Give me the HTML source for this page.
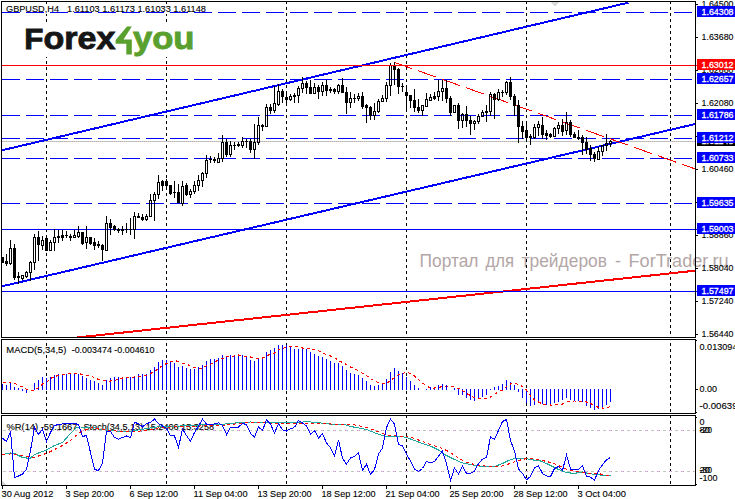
<!DOCTYPE html>
<html><head><meta charset="utf-8"><title>GBPUSD H4</title>
<style>html,body{margin:0;padding:0;background:#fff;overflow:hidden}svg{display:block}text{font-family:"Liberation Sans",sans-serif}</style>
</head><body>
<svg width="735" height="499" viewBox="0 0 735 499" shape-rendering="crispEdges">
<rect x="0" y="0" width="735" height="499" fill="#ffffff"/>
<text x="419.5" y="266.5" font-size="17.5" fill="#b3a6a6" textLength="59" lengthAdjust="spacingAndGlyphs" style="shape-rendering:auto">Портал</text>
<text x="485.5" y="266.5" font-size="17.5" fill="#b3a6a6" textLength="28.5" lengthAdjust="spacingAndGlyphs" style="shape-rendering:auto">для</text>
<text x="521.5" y="266.5" font-size="17.5" fill="#b3a6a6" textLength="85.5" lengthAdjust="spacingAndGlyphs" style="shape-rendering:auto">трейдеров</text>
<text x="615" y="266.5" font-size="17.5" fill="#b3a6a6" textLength="6" lengthAdjust="spacingAndGlyphs" style="shape-rendering:auto">-</text>
<text x="628.5" y="266.5" font-size="17.5" fill="#b3a6a6" textLength="100" lengthAdjust="spacingAndGlyphs" style="shape-rendering:auto">ForTrader.ru</text>
<rect x="46" y="1" width="1" height="3" fill="#000"/>
<rect x="46" y="7" width="1" height="3" fill="#000"/>
<rect x="46" y="13" width="1" height="3" fill="#000"/>
<rect x="46" y="19" width="1" height="3" fill="#000"/>
<rect x="46" y="25" width="1" height="3" fill="#000"/>
<rect x="46" y="31" width="1" height="3" fill="#000"/>
<rect x="46" y="37" width="1" height="3" fill="#000"/>
<rect x="46" y="43" width="1" height="3" fill="#000"/>
<rect x="46" y="49" width="1" height="3" fill="#000"/>
<rect x="46" y="55" width="1" height="3" fill="#000"/>
<rect x="46" y="61" width="1" height="3" fill="#000"/>
<rect x="46" y="67" width="1" height="3" fill="#000"/>
<rect x="46" y="73" width="1" height="3" fill="#000"/>
<rect x="46" y="79" width="1" height="3" fill="#000"/>
<rect x="46" y="85" width="1" height="3" fill="#000"/>
<rect x="46" y="91" width="1" height="3" fill="#000"/>
<rect x="46" y="97" width="1" height="3" fill="#000"/>
<rect x="46" y="103" width="1" height="3" fill="#000"/>
<rect x="46" y="109" width="1" height="3" fill="#000"/>
<rect x="46" y="115" width="1" height="3" fill="#000"/>
<rect x="46" y="121" width="1" height="3" fill="#000"/>
<rect x="46" y="127" width="1" height="3" fill="#000"/>
<rect x="46" y="133" width="1" height="3" fill="#000"/>
<rect x="46" y="139" width="1" height="3" fill="#000"/>
<rect x="46" y="145" width="1" height="3" fill="#000"/>
<rect x="46" y="151" width="1" height="3" fill="#000"/>
<rect x="46" y="157" width="1" height="3" fill="#000"/>
<rect x="46" y="163" width="1" height="3" fill="#000"/>
<rect x="46" y="169" width="1" height="3" fill="#000"/>
<rect x="46" y="175" width="1" height="3" fill="#000"/>
<rect x="46" y="181" width="1" height="3" fill="#000"/>
<rect x="46" y="187" width="1" height="3" fill="#000"/>
<rect x="46" y="193" width="1" height="3" fill="#000"/>
<rect x="46" y="199" width="1" height="3" fill="#000"/>
<rect x="46" y="205" width="1" height="3" fill="#000"/>
<rect x="46" y="211" width="1" height="3" fill="#000"/>
<rect x="46" y="217" width="1" height="3" fill="#000"/>
<rect x="46" y="223" width="1" height="3" fill="#000"/>
<rect x="46" y="229" width="1" height="3" fill="#000"/>
<rect x="46" y="235" width="1" height="3" fill="#000"/>
<rect x="46" y="241" width="1" height="3" fill="#000"/>
<rect x="46" y="247" width="1" height="3" fill="#000"/>
<rect x="46" y="253" width="1" height="3" fill="#000"/>
<rect x="46" y="259" width="1" height="3" fill="#000"/>
<rect x="46" y="265" width="1" height="3" fill="#000"/>
<rect x="46" y="271" width="1" height="3" fill="#000"/>
<rect x="46" y="277" width="1" height="3" fill="#000"/>
<rect x="46" y="283" width="1" height="3" fill="#000"/>
<rect x="46" y="289" width="1" height="3" fill="#000"/>
<rect x="46" y="295" width="1" height="3" fill="#000"/>
<rect x="46" y="301" width="1" height="3" fill="#000"/>
<rect x="46" y="307" width="1" height="3" fill="#000"/>
<rect x="46" y="313" width="1" height="3" fill="#000"/>
<rect x="46" y="319" width="1" height="3" fill="#000"/>
<rect x="46" y="325" width="1" height="3" fill="#000"/>
<rect x="46" y="331" width="1" height="3" fill="#000"/>
<rect x="46" y="337" width="1" height="1" fill="#000"/>
<rect x="46" y="339" width="1" height="1" fill="#000"/>
<rect x="46" y="343" width="1" height="3" fill="#000"/>
<rect x="46" y="349" width="1" height="3" fill="#000"/>
<rect x="46" y="355" width="1" height="3" fill="#000"/>
<rect x="46" y="361" width="1" height="3" fill="#000"/>
<rect x="46" y="367" width="1" height="3" fill="#000"/>
<rect x="46" y="373" width="1" height="3" fill="#000"/>
<rect x="46" y="379" width="1" height="3" fill="#000"/>
<rect x="46" y="385" width="1" height="3" fill="#000"/>
<rect x="46" y="391" width="1" height="3" fill="#000"/>
<rect x="46" y="397" width="1" height="3" fill="#000"/>
<rect x="46" y="403" width="1" height="3" fill="#000"/>
<rect x="46" y="409" width="1" height="3" fill="#000"/>
<rect x="46" y="415" width="1" height="3" fill="#000"/>
<rect x="46" y="421" width="1" height="3" fill="#000"/>
<rect x="46" y="427" width="1" height="3" fill="#000"/>
<rect x="46" y="433" width="1" height="3" fill="#000"/>
<rect x="46" y="439" width="1" height="3" fill="#000"/>
<rect x="46" y="445" width="1" height="3" fill="#000"/>
<rect x="46" y="451" width="1" height="3" fill="#000"/>
<rect x="46" y="457" width="1" height="3" fill="#000"/>
<rect x="46" y="463" width="1" height="3" fill="#000"/>
<rect x="46" y="469" width="1" height="3" fill="#000"/>
<rect x="46" y="475" width="1" height="3" fill="#000"/>
<rect x="46" y="481" width="1" height="3" fill="#000"/>
<rect x="166" y="1" width="1" height="3" fill="#000"/>
<rect x="166" y="7" width="1" height="3" fill="#000"/>
<rect x="166" y="13" width="1" height="3" fill="#000"/>
<rect x="166" y="19" width="1" height="3" fill="#000"/>
<rect x="166" y="25" width="1" height="3" fill="#000"/>
<rect x="166" y="31" width="1" height="3" fill="#000"/>
<rect x="166" y="37" width="1" height="3" fill="#000"/>
<rect x="166" y="43" width="1" height="3" fill="#000"/>
<rect x="166" y="49" width="1" height="3" fill="#000"/>
<rect x="166" y="55" width="1" height="3" fill="#000"/>
<rect x="166" y="61" width="1" height="3" fill="#000"/>
<rect x="166" y="67" width="1" height="3" fill="#000"/>
<rect x="166" y="73" width="1" height="3" fill="#000"/>
<rect x="166" y="79" width="1" height="3" fill="#000"/>
<rect x="166" y="85" width="1" height="3" fill="#000"/>
<rect x="166" y="91" width="1" height="3" fill="#000"/>
<rect x="166" y="97" width="1" height="3" fill="#000"/>
<rect x="166" y="103" width="1" height="3" fill="#000"/>
<rect x="166" y="109" width="1" height="3" fill="#000"/>
<rect x="166" y="115" width="1" height="3" fill="#000"/>
<rect x="166" y="121" width="1" height="3" fill="#000"/>
<rect x="166" y="127" width="1" height="3" fill="#000"/>
<rect x="166" y="133" width="1" height="3" fill="#000"/>
<rect x="166" y="139" width="1" height="3" fill="#000"/>
<rect x="166" y="145" width="1" height="3" fill="#000"/>
<rect x="166" y="151" width="1" height="3" fill="#000"/>
<rect x="166" y="157" width="1" height="3" fill="#000"/>
<rect x="166" y="163" width="1" height="3" fill="#000"/>
<rect x="166" y="169" width="1" height="3" fill="#000"/>
<rect x="166" y="175" width="1" height="3" fill="#000"/>
<rect x="166" y="181" width="1" height="3" fill="#000"/>
<rect x="166" y="187" width="1" height="3" fill="#000"/>
<rect x="166" y="193" width="1" height="3" fill="#000"/>
<rect x="166" y="199" width="1" height="3" fill="#000"/>
<rect x="166" y="205" width="1" height="3" fill="#000"/>
<rect x="166" y="211" width="1" height="3" fill="#000"/>
<rect x="166" y="217" width="1" height="3" fill="#000"/>
<rect x="166" y="223" width="1" height="3" fill="#000"/>
<rect x="166" y="229" width="1" height="3" fill="#000"/>
<rect x="166" y="235" width="1" height="3" fill="#000"/>
<rect x="166" y="241" width="1" height="3" fill="#000"/>
<rect x="166" y="247" width="1" height="3" fill="#000"/>
<rect x="166" y="253" width="1" height="3" fill="#000"/>
<rect x="166" y="259" width="1" height="3" fill="#000"/>
<rect x="166" y="265" width="1" height="3" fill="#000"/>
<rect x="166" y="271" width="1" height="3" fill="#000"/>
<rect x="166" y="277" width="1" height="3" fill="#000"/>
<rect x="166" y="283" width="1" height="3" fill="#000"/>
<rect x="166" y="289" width="1" height="3" fill="#000"/>
<rect x="166" y="295" width="1" height="3" fill="#000"/>
<rect x="166" y="301" width="1" height="3" fill="#000"/>
<rect x="166" y="307" width="1" height="3" fill="#000"/>
<rect x="166" y="313" width="1" height="3" fill="#000"/>
<rect x="166" y="319" width="1" height="3" fill="#000"/>
<rect x="166" y="325" width="1" height="3" fill="#000"/>
<rect x="166" y="331" width="1" height="3" fill="#000"/>
<rect x="166" y="337" width="1" height="1" fill="#000"/>
<rect x="166" y="339" width="1" height="1" fill="#000"/>
<rect x="166" y="343" width="1" height="3" fill="#000"/>
<rect x="166" y="349" width="1" height="3" fill="#000"/>
<rect x="166" y="355" width="1" height="3" fill="#000"/>
<rect x="166" y="361" width="1" height="3" fill="#000"/>
<rect x="166" y="367" width="1" height="3" fill="#000"/>
<rect x="166" y="373" width="1" height="3" fill="#000"/>
<rect x="166" y="379" width="1" height="3" fill="#000"/>
<rect x="166" y="385" width="1" height="3" fill="#000"/>
<rect x="166" y="391" width="1" height="3" fill="#000"/>
<rect x="166" y="397" width="1" height="3" fill="#000"/>
<rect x="166" y="403" width="1" height="3" fill="#000"/>
<rect x="166" y="409" width="1" height="3" fill="#000"/>
<rect x="166" y="415" width="1" height="3" fill="#000"/>
<rect x="166" y="421" width="1" height="3" fill="#000"/>
<rect x="166" y="427" width="1" height="3" fill="#000"/>
<rect x="166" y="433" width="1" height="3" fill="#000"/>
<rect x="166" y="439" width="1" height="3" fill="#000"/>
<rect x="166" y="445" width="1" height="3" fill="#000"/>
<rect x="166" y="451" width="1" height="3" fill="#000"/>
<rect x="166" y="457" width="1" height="3" fill="#000"/>
<rect x="166" y="463" width="1" height="3" fill="#000"/>
<rect x="166" y="469" width="1" height="3" fill="#000"/>
<rect x="166" y="475" width="1" height="3" fill="#000"/>
<rect x="166" y="481" width="1" height="3" fill="#000"/>
<rect x="286" y="1" width="1" height="3" fill="#000"/>
<rect x="286" y="7" width="1" height="3" fill="#000"/>
<rect x="286" y="13" width="1" height="3" fill="#000"/>
<rect x="286" y="19" width="1" height="3" fill="#000"/>
<rect x="286" y="25" width="1" height="3" fill="#000"/>
<rect x="286" y="31" width="1" height="3" fill="#000"/>
<rect x="286" y="37" width="1" height="3" fill="#000"/>
<rect x="286" y="43" width="1" height="3" fill="#000"/>
<rect x="286" y="49" width="1" height="3" fill="#000"/>
<rect x="286" y="55" width="1" height="3" fill="#000"/>
<rect x="286" y="61" width="1" height="3" fill="#000"/>
<rect x="286" y="67" width="1" height="3" fill="#000"/>
<rect x="286" y="73" width="1" height="3" fill="#000"/>
<rect x="286" y="79" width="1" height="3" fill="#000"/>
<rect x="286" y="85" width="1" height="3" fill="#000"/>
<rect x="286" y="91" width="1" height="3" fill="#000"/>
<rect x="286" y="97" width="1" height="3" fill="#000"/>
<rect x="286" y="103" width="1" height="3" fill="#000"/>
<rect x="286" y="109" width="1" height="3" fill="#000"/>
<rect x="286" y="115" width="1" height="3" fill="#000"/>
<rect x="286" y="121" width="1" height="3" fill="#000"/>
<rect x="286" y="127" width="1" height="3" fill="#000"/>
<rect x="286" y="133" width="1" height="3" fill="#000"/>
<rect x="286" y="139" width="1" height="3" fill="#000"/>
<rect x="286" y="145" width="1" height="3" fill="#000"/>
<rect x="286" y="151" width="1" height="3" fill="#000"/>
<rect x="286" y="157" width="1" height="3" fill="#000"/>
<rect x="286" y="163" width="1" height="3" fill="#000"/>
<rect x="286" y="169" width="1" height="3" fill="#000"/>
<rect x="286" y="175" width="1" height="3" fill="#000"/>
<rect x="286" y="181" width="1" height="3" fill="#000"/>
<rect x="286" y="187" width="1" height="3" fill="#000"/>
<rect x="286" y="193" width="1" height="3" fill="#000"/>
<rect x="286" y="199" width="1" height="3" fill="#000"/>
<rect x="286" y="205" width="1" height="3" fill="#000"/>
<rect x="286" y="211" width="1" height="3" fill="#000"/>
<rect x="286" y="217" width="1" height="3" fill="#000"/>
<rect x="286" y="223" width="1" height="3" fill="#000"/>
<rect x="286" y="229" width="1" height="3" fill="#000"/>
<rect x="286" y="235" width="1" height="3" fill="#000"/>
<rect x="286" y="241" width="1" height="3" fill="#000"/>
<rect x="286" y="247" width="1" height="3" fill="#000"/>
<rect x="286" y="253" width="1" height="3" fill="#000"/>
<rect x="286" y="259" width="1" height="3" fill="#000"/>
<rect x="286" y="265" width="1" height="3" fill="#000"/>
<rect x="286" y="271" width="1" height="3" fill="#000"/>
<rect x="286" y="277" width="1" height="3" fill="#000"/>
<rect x="286" y="283" width="1" height="3" fill="#000"/>
<rect x="286" y="289" width="1" height="3" fill="#000"/>
<rect x="286" y="295" width="1" height="3" fill="#000"/>
<rect x="286" y="301" width="1" height="3" fill="#000"/>
<rect x="286" y="307" width="1" height="3" fill="#000"/>
<rect x="286" y="313" width="1" height="3" fill="#000"/>
<rect x="286" y="319" width="1" height="3" fill="#000"/>
<rect x="286" y="325" width="1" height="3" fill="#000"/>
<rect x="286" y="331" width="1" height="3" fill="#000"/>
<rect x="286" y="337" width="1" height="1" fill="#000"/>
<rect x="286" y="339" width="1" height="1" fill="#000"/>
<rect x="286" y="343" width="1" height="3" fill="#000"/>
<rect x="286" y="349" width="1" height="3" fill="#000"/>
<rect x="286" y="355" width="1" height="3" fill="#000"/>
<rect x="286" y="361" width="1" height="3" fill="#000"/>
<rect x="286" y="367" width="1" height="3" fill="#000"/>
<rect x="286" y="373" width="1" height="3" fill="#000"/>
<rect x="286" y="379" width="1" height="3" fill="#000"/>
<rect x="286" y="385" width="1" height="3" fill="#000"/>
<rect x="286" y="391" width="1" height="3" fill="#000"/>
<rect x="286" y="397" width="1" height="3" fill="#000"/>
<rect x="286" y="403" width="1" height="3" fill="#000"/>
<rect x="286" y="409" width="1" height="3" fill="#000"/>
<rect x="286" y="415" width="1" height="3" fill="#000"/>
<rect x="286" y="421" width="1" height="3" fill="#000"/>
<rect x="286" y="427" width="1" height="3" fill="#000"/>
<rect x="286" y="433" width="1" height="3" fill="#000"/>
<rect x="286" y="439" width="1" height="3" fill="#000"/>
<rect x="286" y="445" width="1" height="3" fill="#000"/>
<rect x="286" y="451" width="1" height="3" fill="#000"/>
<rect x="286" y="457" width="1" height="3" fill="#000"/>
<rect x="286" y="463" width="1" height="3" fill="#000"/>
<rect x="286" y="469" width="1" height="3" fill="#000"/>
<rect x="286" y="475" width="1" height="3" fill="#000"/>
<rect x="286" y="481" width="1" height="3" fill="#000"/>
<rect x="406" y="1" width="1" height="3" fill="#000"/>
<rect x="406" y="7" width="1" height="3" fill="#000"/>
<rect x="406" y="13" width="1" height="3" fill="#000"/>
<rect x="406" y="19" width="1" height="3" fill="#000"/>
<rect x="406" y="25" width="1" height="3" fill="#000"/>
<rect x="406" y="31" width="1" height="3" fill="#000"/>
<rect x="406" y="37" width="1" height="3" fill="#000"/>
<rect x="406" y="43" width="1" height="3" fill="#000"/>
<rect x="406" y="49" width="1" height="3" fill="#000"/>
<rect x="406" y="55" width="1" height="3" fill="#000"/>
<rect x="406" y="61" width="1" height="3" fill="#000"/>
<rect x="406" y="67" width="1" height="3" fill="#000"/>
<rect x="406" y="73" width="1" height="3" fill="#000"/>
<rect x="406" y="79" width="1" height="3" fill="#000"/>
<rect x="406" y="85" width="1" height="3" fill="#000"/>
<rect x="406" y="91" width="1" height="3" fill="#000"/>
<rect x="406" y="97" width="1" height="3" fill="#000"/>
<rect x="406" y="103" width="1" height="3" fill="#000"/>
<rect x="406" y="109" width="1" height="3" fill="#000"/>
<rect x="406" y="115" width="1" height="3" fill="#000"/>
<rect x="406" y="121" width="1" height="3" fill="#000"/>
<rect x="406" y="127" width="1" height="3" fill="#000"/>
<rect x="406" y="133" width="1" height="3" fill="#000"/>
<rect x="406" y="139" width="1" height="3" fill="#000"/>
<rect x="406" y="145" width="1" height="3" fill="#000"/>
<rect x="406" y="151" width="1" height="3" fill="#000"/>
<rect x="406" y="157" width="1" height="3" fill="#000"/>
<rect x="406" y="163" width="1" height="3" fill="#000"/>
<rect x="406" y="169" width="1" height="3" fill="#000"/>
<rect x="406" y="175" width="1" height="3" fill="#000"/>
<rect x="406" y="181" width="1" height="3" fill="#000"/>
<rect x="406" y="187" width="1" height="3" fill="#000"/>
<rect x="406" y="193" width="1" height="3" fill="#000"/>
<rect x="406" y="199" width="1" height="3" fill="#000"/>
<rect x="406" y="205" width="1" height="3" fill="#000"/>
<rect x="406" y="211" width="1" height="3" fill="#000"/>
<rect x="406" y="217" width="1" height="3" fill="#000"/>
<rect x="406" y="223" width="1" height="3" fill="#000"/>
<rect x="406" y="229" width="1" height="3" fill="#000"/>
<rect x="406" y="235" width="1" height="3" fill="#000"/>
<rect x="406" y="241" width="1" height="3" fill="#000"/>
<rect x="406" y="247" width="1" height="3" fill="#000"/>
<rect x="406" y="253" width="1" height="3" fill="#000"/>
<rect x="406" y="259" width="1" height="3" fill="#000"/>
<rect x="406" y="265" width="1" height="3" fill="#000"/>
<rect x="406" y="271" width="1" height="3" fill="#000"/>
<rect x="406" y="277" width="1" height="3" fill="#000"/>
<rect x="406" y="283" width="1" height="3" fill="#000"/>
<rect x="406" y="289" width="1" height="3" fill="#000"/>
<rect x="406" y="295" width="1" height="3" fill="#000"/>
<rect x="406" y="301" width="1" height="3" fill="#000"/>
<rect x="406" y="307" width="1" height="3" fill="#000"/>
<rect x="406" y="313" width="1" height="3" fill="#000"/>
<rect x="406" y="319" width="1" height="3" fill="#000"/>
<rect x="406" y="325" width="1" height="3" fill="#000"/>
<rect x="406" y="331" width="1" height="3" fill="#000"/>
<rect x="406" y="337" width="1" height="1" fill="#000"/>
<rect x="406" y="339" width="1" height="1" fill="#000"/>
<rect x="406" y="343" width="1" height="3" fill="#000"/>
<rect x="406" y="349" width="1" height="3" fill="#000"/>
<rect x="406" y="355" width="1" height="3" fill="#000"/>
<rect x="406" y="361" width="1" height="3" fill="#000"/>
<rect x="406" y="367" width="1" height="3" fill="#000"/>
<rect x="406" y="373" width="1" height="3" fill="#000"/>
<rect x="406" y="379" width="1" height="3" fill="#000"/>
<rect x="406" y="385" width="1" height="3" fill="#000"/>
<rect x="406" y="391" width="1" height="3" fill="#000"/>
<rect x="406" y="397" width="1" height="3" fill="#000"/>
<rect x="406" y="403" width="1" height="3" fill="#000"/>
<rect x="406" y="409" width="1" height="3" fill="#000"/>
<rect x="406" y="415" width="1" height="3" fill="#000"/>
<rect x="406" y="421" width="1" height="3" fill="#000"/>
<rect x="406" y="427" width="1" height="3" fill="#000"/>
<rect x="406" y="433" width="1" height="3" fill="#000"/>
<rect x="406" y="439" width="1" height="3" fill="#000"/>
<rect x="406" y="445" width="1" height="3" fill="#000"/>
<rect x="406" y="451" width="1" height="3" fill="#000"/>
<rect x="406" y="457" width="1" height="3" fill="#000"/>
<rect x="406" y="463" width="1" height="3" fill="#000"/>
<rect x="406" y="469" width="1" height="3" fill="#000"/>
<rect x="406" y="475" width="1" height="3" fill="#000"/>
<rect x="406" y="481" width="1" height="3" fill="#000"/>
<rect x="526" y="1" width="1" height="3" fill="#000"/>
<rect x="526" y="7" width="1" height="3" fill="#000"/>
<rect x="526" y="13" width="1" height="3" fill="#000"/>
<rect x="526" y="19" width="1" height="3" fill="#000"/>
<rect x="526" y="25" width="1" height="3" fill="#000"/>
<rect x="526" y="31" width="1" height="3" fill="#000"/>
<rect x="526" y="37" width="1" height="3" fill="#000"/>
<rect x="526" y="43" width="1" height="3" fill="#000"/>
<rect x="526" y="49" width="1" height="3" fill="#000"/>
<rect x="526" y="55" width="1" height="3" fill="#000"/>
<rect x="526" y="61" width="1" height="3" fill="#000"/>
<rect x="526" y="67" width="1" height="3" fill="#000"/>
<rect x="526" y="73" width="1" height="3" fill="#000"/>
<rect x="526" y="79" width="1" height="3" fill="#000"/>
<rect x="526" y="85" width="1" height="3" fill="#000"/>
<rect x="526" y="91" width="1" height="3" fill="#000"/>
<rect x="526" y="97" width="1" height="3" fill="#000"/>
<rect x="526" y="103" width="1" height="3" fill="#000"/>
<rect x="526" y="109" width="1" height="3" fill="#000"/>
<rect x="526" y="115" width="1" height="3" fill="#000"/>
<rect x="526" y="121" width="1" height="3" fill="#000"/>
<rect x="526" y="127" width="1" height="3" fill="#000"/>
<rect x="526" y="133" width="1" height="3" fill="#000"/>
<rect x="526" y="139" width="1" height="3" fill="#000"/>
<rect x="526" y="145" width="1" height="3" fill="#000"/>
<rect x="526" y="151" width="1" height="3" fill="#000"/>
<rect x="526" y="157" width="1" height="3" fill="#000"/>
<rect x="526" y="163" width="1" height="3" fill="#000"/>
<rect x="526" y="169" width="1" height="3" fill="#000"/>
<rect x="526" y="175" width="1" height="3" fill="#000"/>
<rect x="526" y="181" width="1" height="3" fill="#000"/>
<rect x="526" y="187" width="1" height="3" fill="#000"/>
<rect x="526" y="193" width="1" height="3" fill="#000"/>
<rect x="526" y="199" width="1" height="3" fill="#000"/>
<rect x="526" y="205" width="1" height="3" fill="#000"/>
<rect x="526" y="211" width="1" height="3" fill="#000"/>
<rect x="526" y="217" width="1" height="3" fill="#000"/>
<rect x="526" y="223" width="1" height="3" fill="#000"/>
<rect x="526" y="229" width="1" height="3" fill="#000"/>
<rect x="526" y="235" width="1" height="3" fill="#000"/>
<rect x="526" y="241" width="1" height="3" fill="#000"/>
<rect x="526" y="247" width="1" height="3" fill="#000"/>
<rect x="526" y="253" width="1" height="3" fill="#000"/>
<rect x="526" y="259" width="1" height="3" fill="#000"/>
<rect x="526" y="265" width="1" height="3" fill="#000"/>
<rect x="526" y="271" width="1" height="3" fill="#000"/>
<rect x="526" y="277" width="1" height="3" fill="#000"/>
<rect x="526" y="283" width="1" height="3" fill="#000"/>
<rect x="526" y="289" width="1" height="3" fill="#000"/>
<rect x="526" y="295" width="1" height="3" fill="#000"/>
<rect x="526" y="301" width="1" height="3" fill="#000"/>
<rect x="526" y="307" width="1" height="3" fill="#000"/>
<rect x="526" y="313" width="1" height="3" fill="#000"/>
<rect x="526" y="319" width="1" height="3" fill="#000"/>
<rect x="526" y="325" width="1" height="3" fill="#000"/>
<rect x="526" y="331" width="1" height="3" fill="#000"/>
<rect x="526" y="337" width="1" height="1" fill="#000"/>
<rect x="526" y="339" width="1" height="1" fill="#000"/>
<rect x="526" y="343" width="1" height="3" fill="#000"/>
<rect x="526" y="349" width="1" height="3" fill="#000"/>
<rect x="526" y="355" width="1" height="3" fill="#000"/>
<rect x="526" y="361" width="1" height="3" fill="#000"/>
<rect x="526" y="367" width="1" height="3" fill="#000"/>
<rect x="526" y="373" width="1" height="3" fill="#000"/>
<rect x="526" y="379" width="1" height="3" fill="#000"/>
<rect x="526" y="385" width="1" height="3" fill="#000"/>
<rect x="526" y="391" width="1" height="3" fill="#000"/>
<rect x="526" y="397" width="1" height="3" fill="#000"/>
<rect x="526" y="403" width="1" height="3" fill="#000"/>
<rect x="526" y="409" width="1" height="3" fill="#000"/>
<rect x="526" y="415" width="1" height="3" fill="#000"/>
<rect x="526" y="421" width="1" height="3" fill="#000"/>
<rect x="526" y="427" width="1" height="3" fill="#000"/>
<rect x="526" y="433" width="1" height="3" fill="#000"/>
<rect x="526" y="439" width="1" height="3" fill="#000"/>
<rect x="526" y="445" width="1" height="3" fill="#000"/>
<rect x="526" y="451" width="1" height="3" fill="#000"/>
<rect x="526" y="457" width="1" height="3" fill="#000"/>
<rect x="526" y="463" width="1" height="3" fill="#000"/>
<rect x="526" y="469" width="1" height="3" fill="#000"/>
<rect x="526" y="475" width="1" height="3" fill="#000"/>
<rect x="526" y="481" width="1" height="3" fill="#000"/>
<rect x="670" y="1" width="1" height="3" fill="#000"/>
<rect x="670" y="7" width="1" height="3" fill="#000"/>
<rect x="670" y="13" width="1" height="3" fill="#000"/>
<rect x="670" y="19" width="1" height="3" fill="#000"/>
<rect x="670" y="25" width="1" height="3" fill="#000"/>
<rect x="670" y="31" width="1" height="3" fill="#000"/>
<rect x="670" y="37" width="1" height="3" fill="#000"/>
<rect x="670" y="43" width="1" height="3" fill="#000"/>
<rect x="670" y="49" width="1" height="3" fill="#000"/>
<rect x="670" y="55" width="1" height="3" fill="#000"/>
<rect x="670" y="61" width="1" height="3" fill="#000"/>
<rect x="670" y="67" width="1" height="3" fill="#000"/>
<rect x="670" y="73" width="1" height="3" fill="#000"/>
<rect x="670" y="79" width="1" height="3" fill="#000"/>
<rect x="670" y="85" width="1" height="3" fill="#000"/>
<rect x="670" y="91" width="1" height="3" fill="#000"/>
<rect x="670" y="97" width="1" height="3" fill="#000"/>
<rect x="670" y="103" width="1" height="3" fill="#000"/>
<rect x="670" y="109" width="1" height="3" fill="#000"/>
<rect x="670" y="115" width="1" height="3" fill="#000"/>
<rect x="670" y="121" width="1" height="3" fill="#000"/>
<rect x="670" y="127" width="1" height="3" fill="#000"/>
<rect x="670" y="133" width="1" height="3" fill="#000"/>
<rect x="670" y="139" width="1" height="3" fill="#000"/>
<rect x="670" y="145" width="1" height="3" fill="#000"/>
<rect x="670" y="151" width="1" height="3" fill="#000"/>
<rect x="670" y="157" width="1" height="3" fill="#000"/>
<rect x="670" y="163" width="1" height="3" fill="#000"/>
<rect x="670" y="169" width="1" height="3" fill="#000"/>
<rect x="670" y="175" width="1" height="3" fill="#000"/>
<rect x="670" y="181" width="1" height="3" fill="#000"/>
<rect x="670" y="187" width="1" height="3" fill="#000"/>
<rect x="670" y="193" width="1" height="3" fill="#000"/>
<rect x="670" y="199" width="1" height="3" fill="#000"/>
<rect x="670" y="205" width="1" height="3" fill="#000"/>
<rect x="670" y="211" width="1" height="3" fill="#000"/>
<rect x="670" y="217" width="1" height="3" fill="#000"/>
<rect x="670" y="223" width="1" height="3" fill="#000"/>
<rect x="670" y="229" width="1" height="3" fill="#000"/>
<rect x="670" y="235" width="1" height="3" fill="#000"/>
<rect x="670" y="241" width="1" height="3" fill="#000"/>
<rect x="670" y="247" width="1" height="3" fill="#000"/>
<rect x="670" y="253" width="1" height="3" fill="#000"/>
<rect x="670" y="259" width="1" height="3" fill="#000"/>
<rect x="670" y="265" width="1" height="3" fill="#000"/>
<rect x="670" y="271" width="1" height="3" fill="#000"/>
<rect x="670" y="277" width="1" height="3" fill="#000"/>
<rect x="670" y="283" width="1" height="3" fill="#000"/>
<rect x="670" y="289" width="1" height="3" fill="#000"/>
<rect x="670" y="295" width="1" height="3" fill="#000"/>
<rect x="670" y="301" width="1" height="3" fill="#000"/>
<rect x="670" y="307" width="1" height="3" fill="#000"/>
<rect x="670" y="313" width="1" height="3" fill="#000"/>
<rect x="670" y="319" width="1" height="3" fill="#000"/>
<rect x="670" y="325" width="1" height="3" fill="#000"/>
<rect x="670" y="331" width="1" height="3" fill="#000"/>
<rect x="670" y="337" width="1" height="1" fill="#000"/>
<rect x="670" y="339" width="1" height="1" fill="#000"/>
<rect x="670" y="343" width="1" height="3" fill="#000"/>
<rect x="670" y="349" width="1" height="3" fill="#000"/>
<rect x="670" y="355" width="1" height="3" fill="#000"/>
<rect x="670" y="361" width="1" height="3" fill="#000"/>
<rect x="670" y="367" width="1" height="3" fill="#000"/>
<rect x="670" y="373" width="1" height="3" fill="#000"/>
<rect x="670" y="379" width="1" height="3" fill="#000"/>
<rect x="670" y="385" width="1" height="3" fill="#000"/>
<rect x="670" y="391" width="1" height="3" fill="#000"/>
<rect x="670" y="397" width="1" height="3" fill="#000"/>
<rect x="670" y="403" width="1" height="3" fill="#000"/>
<rect x="670" y="409" width="1" height="3" fill="#000"/>
<rect x="670" y="415" width="1" height="3" fill="#000"/>
<rect x="670" y="421" width="1" height="3" fill="#000"/>
<rect x="670" y="427" width="1" height="3" fill="#000"/>
<rect x="670" y="433" width="1" height="3" fill="#000"/>
<rect x="670" y="439" width="1" height="3" fill="#000"/>
<rect x="670" y="445" width="1" height="3" fill="#000"/>
<rect x="670" y="451" width="1" height="3" fill="#000"/>
<rect x="670" y="457" width="1" height="3" fill="#000"/>
<rect x="670" y="463" width="1" height="3" fill="#000"/>
<rect x="670" y="469" width="1" height="3" fill="#000"/>
<rect x="670" y="475" width="1" height="3" fill="#000"/>
<rect x="670" y="481" width="1" height="3" fill="#000"/>
<rect x="6" y="5" width="202" height="9" fill="#fff"/>
<rect x="6" y="346" width="150" height="9" fill="#fff"/>
<rect x="6" y="421" width="210" height="9" fill="#fff"/>
<text x="6" y="12" font-size="9.7" fill="#000" stroke="#000" stroke-width="0.12" textLength="53" lengthAdjust="spacingAndGlyphs" style="shape-rendering:auto">GBPUSD,H4</text>
<text x="67" y="12" font-size="9.7" fill="#000" stroke="#000" stroke-width="0.12" textLength="139" lengthAdjust="spacingAndGlyphs" style="shape-rendering:auto">1.61103 1.61173 1.61033 1.61148</text>
<text x="6.3" y="353" font-size="9.7" fill="#000" stroke="#000" stroke-width="0.12" textLength="60.2" lengthAdjust="spacingAndGlyphs" style="shape-rendering:auto">MACD(5,34,5)</text>
<text x="71.7" y="353" font-size="9.7" fill="#000" stroke="#000" stroke-width="0.12" textLength="82.8" lengthAdjust="spacingAndGlyphs" style="shape-rendering:auto">-0.003474 -0.004610</text>
<text x="6.5" y="429.5" font-size="9.7" fill="#000" stroke="#000" stroke-width="0.12" textLength="71" lengthAdjust="spacingAndGlyphs" style="shape-rendering:auto">%R(14) -59.1667</text>
<text x="83.5" y="429.5" font-size="9.7" fill="#000" stroke="#000" stroke-width="0.12" textLength="130.5" lengthAdjust="spacingAndGlyphs" style="shape-rendering:auto">Stoch(34,5,13) 15.2406 15.3258</text>
<defs><pattern id="pp" x="2" y="141" width="2" height="1" patternUnits="userSpaceOnUse"><rect x="0" y="0" width="1" height="1" fill="#cda8cd"/><rect x="1" y="0" width="1" height="1" fill="#b4d6b4"/></pattern><pattern id="lv" x="3" y="0" width="12" height="1" patternUnits="userSpaceOnUse"><rect x="0" y="0" width="1" height="1" fill="#b4d6b4"/><rect x="1" y="0" width="1" height="1" fill="#cfb0cf"/><rect x="2" y="0" width="1" height="1" fill="#b4d6b4"/><rect x="6" y="0" width="1" height="1" fill="#c894c8"/><rect x="7" y="0" width="1" height="1" fill="#e2d2e2"/><rect x="8" y="0" width="1" height="1" fill="#c894c8"/></pattern></defs>
<rect x="2" y="141" width="693" height="1" fill="url(#pp)"/>
<rect x="2" y="12" width="18" height="1" fill="#0000ff"/>
<rect x="26" y="12" width="18" height="1" fill="#0000ff"/>
<rect x="50" y="12" width="18" height="1" fill="#0000ff"/>
<rect x="74" y="12" width="18" height="1" fill="#0000ff"/>
<rect x="98" y="12" width="18" height="1" fill="#0000ff"/>
<rect x="122" y="12" width="18" height="1" fill="#0000ff"/>
<rect x="146" y="12" width="18" height="1" fill="#0000ff"/>
<rect x="170" y="12" width="18" height="1" fill="#0000ff"/>
<rect x="194" y="12" width="18" height="1" fill="#0000ff"/>
<rect x="218" y="12" width="18" height="1" fill="#0000ff"/>
<rect x="242" y="12" width="18" height="1" fill="#0000ff"/>
<rect x="266" y="12" width="18" height="1" fill="#0000ff"/>
<rect x="290" y="12" width="18" height="1" fill="#0000ff"/>
<rect x="314" y="12" width="18" height="1" fill="#0000ff"/>
<rect x="338" y="12" width="18" height="1" fill="#0000ff"/>
<rect x="362" y="12" width="18" height="1" fill="#0000ff"/>
<rect x="386" y="12" width="18" height="1" fill="#0000ff"/>
<rect x="410" y="12" width="18" height="1" fill="#0000ff"/>
<rect x="434" y="12" width="18" height="1" fill="#0000ff"/>
<rect x="458" y="12" width="18" height="1" fill="#0000ff"/>
<rect x="482" y="12" width="18" height="1" fill="#0000ff"/>
<rect x="506" y="12" width="18" height="1" fill="#0000ff"/>
<rect x="530" y="12" width="18" height="1" fill="#0000ff"/>
<rect x="554" y="12" width="18" height="1" fill="#0000ff"/>
<rect x="578" y="12" width="18" height="1" fill="#0000ff"/>
<rect x="602" y="12" width="18" height="1" fill="#0000ff"/>
<rect x="626" y="12" width="18" height="1" fill="#0000ff"/>
<rect x="650" y="12" width="18" height="1" fill="#0000ff"/>
<rect x="674" y="12" width="18" height="1" fill="#0000ff"/>
<rect x="2" y="79" width="18" height="1" fill="#0000ff"/>
<rect x="26" y="79" width="18" height="1" fill="#0000ff"/>
<rect x="50" y="79" width="18" height="1" fill="#0000ff"/>
<rect x="74" y="79" width="18" height="1" fill="#0000ff"/>
<rect x="98" y="79" width="18" height="1" fill="#0000ff"/>
<rect x="122" y="79" width="18" height="1" fill="#0000ff"/>
<rect x="146" y="79" width="18" height="1" fill="#0000ff"/>
<rect x="170" y="79" width="18" height="1" fill="#0000ff"/>
<rect x="194" y="79" width="18" height="1" fill="#0000ff"/>
<rect x="218" y="79" width="18" height="1" fill="#0000ff"/>
<rect x="242" y="79" width="18" height="1" fill="#0000ff"/>
<rect x="266" y="79" width="18" height="1" fill="#0000ff"/>
<rect x="290" y="79" width="18" height="1" fill="#0000ff"/>
<rect x="314" y="79" width="18" height="1" fill="#0000ff"/>
<rect x="338" y="79" width="18" height="1" fill="#0000ff"/>
<rect x="362" y="79" width="18" height="1" fill="#0000ff"/>
<rect x="386" y="79" width="18" height="1" fill="#0000ff"/>
<rect x="410" y="79" width="18" height="1" fill="#0000ff"/>
<rect x="434" y="79" width="18" height="1" fill="#0000ff"/>
<rect x="458" y="79" width="18" height="1" fill="#0000ff"/>
<rect x="482" y="79" width="18" height="1" fill="#0000ff"/>
<rect x="506" y="79" width="18" height="1" fill="#0000ff"/>
<rect x="530" y="79" width="18" height="1" fill="#0000ff"/>
<rect x="554" y="79" width="18" height="1" fill="#0000ff"/>
<rect x="578" y="79" width="18" height="1" fill="#0000ff"/>
<rect x="602" y="79" width="18" height="1" fill="#0000ff"/>
<rect x="626" y="79" width="18" height="1" fill="#0000ff"/>
<rect x="650" y="79" width="18" height="1" fill="#0000ff"/>
<rect x="674" y="79" width="18" height="1" fill="#0000ff"/>
<rect x="2" y="115" width="18" height="1" fill="#0000ff"/>
<rect x="26" y="115" width="18" height="1" fill="#0000ff"/>
<rect x="50" y="115" width="18" height="1" fill="#0000ff"/>
<rect x="74" y="115" width="18" height="1" fill="#0000ff"/>
<rect x="98" y="115" width="18" height="1" fill="#0000ff"/>
<rect x="122" y="115" width="18" height="1" fill="#0000ff"/>
<rect x="146" y="115" width="18" height="1" fill="#0000ff"/>
<rect x="170" y="115" width="18" height="1" fill="#0000ff"/>
<rect x="194" y="115" width="18" height="1" fill="#0000ff"/>
<rect x="218" y="115" width="18" height="1" fill="#0000ff"/>
<rect x="242" y="115" width="18" height="1" fill="#0000ff"/>
<rect x="266" y="115" width="18" height="1" fill="#0000ff"/>
<rect x="290" y="115" width="18" height="1" fill="#0000ff"/>
<rect x="314" y="115" width="18" height="1" fill="#0000ff"/>
<rect x="338" y="115" width="18" height="1" fill="#0000ff"/>
<rect x="362" y="115" width="18" height="1" fill="#0000ff"/>
<rect x="386" y="115" width="18" height="1" fill="#0000ff"/>
<rect x="410" y="115" width="18" height="1" fill="#0000ff"/>
<rect x="434" y="115" width="18" height="1" fill="#0000ff"/>
<rect x="458" y="115" width="18" height="1" fill="#0000ff"/>
<rect x="482" y="115" width="18" height="1" fill="#0000ff"/>
<rect x="506" y="115" width="18" height="1" fill="#0000ff"/>
<rect x="530" y="115" width="18" height="1" fill="#0000ff"/>
<rect x="554" y="115" width="18" height="1" fill="#0000ff"/>
<rect x="578" y="115" width="18" height="1" fill="#0000ff"/>
<rect x="602" y="115" width="18" height="1" fill="#0000ff"/>
<rect x="626" y="115" width="18" height="1" fill="#0000ff"/>
<rect x="650" y="115" width="18" height="1" fill="#0000ff"/>
<rect x="674" y="115" width="18" height="1" fill="#0000ff"/>
<rect x="2" y="138" width="18" height="1" fill="#0000ff"/>
<rect x="26" y="138" width="18" height="1" fill="#0000ff"/>
<rect x="50" y="138" width="18" height="1" fill="#0000ff"/>
<rect x="74" y="138" width="18" height="1" fill="#0000ff"/>
<rect x="98" y="138" width="18" height="1" fill="#0000ff"/>
<rect x="122" y="138" width="18" height="1" fill="#0000ff"/>
<rect x="146" y="138" width="18" height="1" fill="#0000ff"/>
<rect x="170" y="138" width="18" height="1" fill="#0000ff"/>
<rect x="194" y="138" width="18" height="1" fill="#0000ff"/>
<rect x="218" y="138" width="18" height="1" fill="#0000ff"/>
<rect x="242" y="138" width="18" height="1" fill="#0000ff"/>
<rect x="266" y="138" width="18" height="1" fill="#0000ff"/>
<rect x="290" y="138" width="18" height="1" fill="#0000ff"/>
<rect x="314" y="138" width="18" height="1" fill="#0000ff"/>
<rect x="338" y="138" width="18" height="1" fill="#0000ff"/>
<rect x="362" y="138" width="18" height="1" fill="#0000ff"/>
<rect x="386" y="138" width="18" height="1" fill="#0000ff"/>
<rect x="410" y="138" width="18" height="1" fill="#0000ff"/>
<rect x="434" y="138" width="18" height="1" fill="#0000ff"/>
<rect x="458" y="138" width="18" height="1" fill="#0000ff"/>
<rect x="482" y="138" width="18" height="1" fill="#0000ff"/>
<rect x="506" y="138" width="18" height="1" fill="#0000ff"/>
<rect x="530" y="138" width="18" height="1" fill="#0000ff"/>
<rect x="554" y="138" width="18" height="1" fill="#0000ff"/>
<rect x="578" y="138" width="18" height="1" fill="#0000ff"/>
<rect x="602" y="138" width="18" height="1" fill="#0000ff"/>
<rect x="626" y="138" width="18" height="1" fill="#0000ff"/>
<rect x="650" y="138" width="18" height="1" fill="#0000ff"/>
<rect x="674" y="138" width="18" height="1" fill="#0000ff"/>
<rect x="2" y="158" width="18" height="1" fill="#0000ff"/>
<rect x="26" y="158" width="18" height="1" fill="#0000ff"/>
<rect x="50" y="158" width="18" height="1" fill="#0000ff"/>
<rect x="74" y="158" width="18" height="1" fill="#0000ff"/>
<rect x="98" y="158" width="18" height="1" fill="#0000ff"/>
<rect x="122" y="158" width="18" height="1" fill="#0000ff"/>
<rect x="146" y="158" width="18" height="1" fill="#0000ff"/>
<rect x="170" y="158" width="18" height="1" fill="#0000ff"/>
<rect x="194" y="158" width="18" height="1" fill="#0000ff"/>
<rect x="218" y="158" width="18" height="1" fill="#0000ff"/>
<rect x="242" y="158" width="18" height="1" fill="#0000ff"/>
<rect x="266" y="158" width="18" height="1" fill="#0000ff"/>
<rect x="290" y="158" width="18" height="1" fill="#0000ff"/>
<rect x="314" y="158" width="18" height="1" fill="#0000ff"/>
<rect x="338" y="158" width="18" height="1" fill="#0000ff"/>
<rect x="362" y="158" width="18" height="1" fill="#0000ff"/>
<rect x="386" y="158" width="18" height="1" fill="#0000ff"/>
<rect x="410" y="158" width="18" height="1" fill="#0000ff"/>
<rect x="434" y="158" width="18" height="1" fill="#0000ff"/>
<rect x="458" y="158" width="18" height="1" fill="#0000ff"/>
<rect x="482" y="158" width="18" height="1" fill="#0000ff"/>
<rect x="506" y="158" width="18" height="1" fill="#0000ff"/>
<rect x="530" y="158" width="18" height="1" fill="#0000ff"/>
<rect x="554" y="158" width="18" height="1" fill="#0000ff"/>
<rect x="578" y="158" width="18" height="1" fill="#0000ff"/>
<rect x="602" y="158" width="18" height="1" fill="#0000ff"/>
<rect x="626" y="158" width="18" height="1" fill="#0000ff"/>
<rect x="650" y="158" width="18" height="1" fill="#0000ff"/>
<rect x="674" y="158" width="18" height="1" fill="#0000ff"/>
<rect x="2" y="203" width="18" height="1" fill="#0000ff"/>
<rect x="26" y="203" width="18" height="1" fill="#0000ff"/>
<rect x="50" y="203" width="18" height="1" fill="#0000ff"/>
<rect x="74" y="203" width="18" height="1" fill="#0000ff"/>
<rect x="98" y="203" width="18" height="1" fill="#0000ff"/>
<rect x="122" y="203" width="18" height="1" fill="#0000ff"/>
<rect x="146" y="203" width="18" height="1" fill="#0000ff"/>
<rect x="170" y="203" width="18" height="1" fill="#0000ff"/>
<rect x="194" y="203" width="18" height="1" fill="#0000ff"/>
<rect x="218" y="203" width="18" height="1" fill="#0000ff"/>
<rect x="242" y="203" width="18" height="1" fill="#0000ff"/>
<rect x="266" y="203" width="18" height="1" fill="#0000ff"/>
<rect x="290" y="203" width="18" height="1" fill="#0000ff"/>
<rect x="314" y="203" width="18" height="1" fill="#0000ff"/>
<rect x="338" y="203" width="18" height="1" fill="#0000ff"/>
<rect x="362" y="203" width="18" height="1" fill="#0000ff"/>
<rect x="386" y="203" width="18" height="1" fill="#0000ff"/>
<rect x="410" y="203" width="18" height="1" fill="#0000ff"/>
<rect x="434" y="203" width="18" height="1" fill="#0000ff"/>
<rect x="458" y="203" width="18" height="1" fill="#0000ff"/>
<rect x="482" y="203" width="18" height="1" fill="#0000ff"/>
<rect x="506" y="203" width="18" height="1" fill="#0000ff"/>
<rect x="530" y="203" width="18" height="1" fill="#0000ff"/>
<rect x="554" y="203" width="18" height="1" fill="#0000ff"/>
<rect x="578" y="203" width="18" height="1" fill="#0000ff"/>
<rect x="602" y="203" width="18" height="1" fill="#0000ff"/>
<rect x="626" y="203" width="18" height="1" fill="#0000ff"/>
<rect x="650" y="203" width="18" height="1" fill="#0000ff"/>
<rect x="674" y="203" width="18" height="1" fill="#0000ff"/>
<defs><clipPath id="cm"><rect x="2" y="2" width="693" height="335"/></clipPath></defs>
<g clip-path="url(#cm)">
<line x1="2" y1="150.3" x2="628.5" y2="2.6" stroke="#0000ff" stroke-width="2"/>
<line x1="2" y1="286.3" x2="696" y2="123.8" stroke="#0000ff" stroke-width="2"/>
<line x1="74" y1="337.85" x2="696" y2="270.6" stroke="#ff0000" stroke-width="2"/>
<line x1="394" y1="62.2" x2="697" y2="169.6" stroke="#ff0000" stroke-width="1" stroke-dasharray="19.1 6.35"/>
</g>
<rect x="2" y="229" width="696" height="1" fill="#0000ff"/>
<rect x="2" y="291" width="696" height="1" fill="#0000ff"/>
<rect x="2" y="257" width="1" height="6" fill="#000"/>
<rect x="1" y="257" width="3" height="6" fill="#000"/>
<rect x="6" y="254" width="1" height="12" fill="#000"/>
<rect x="5" y="261" width="3" height="3" fill="#000"/>
<rect x="10" y="240" width="1" height="8" fill="#000"/>
<rect x="10" y="264" width="1" height="1" fill="#000"/>
<rect x="9" y="248" width="3" height="1" fill="#000"/>
<rect x="9" y="263" width="3" height="1" fill="#000"/>
<rect x="9" y="248" width="1" height="16" fill="#000"/>
<rect x="11" y="248" width="1" height="16" fill="#000"/>
<rect x="14" y="244" width="1" height="36" fill="#000"/>
<rect x="13" y="248" width="3" height="30" fill="#000"/>
<rect x="18" y="272" width="1" height="12" fill="#000"/>
<rect x="17" y="276" width="3" height="2" fill="#000"/>
<rect x="22" y="279" width="1" height="1" fill="#000"/>
<rect x="21" y="275" width="3" height="1" fill="#000"/>
<rect x="21" y="278" width="3" height="1" fill="#000"/>
<rect x="21" y="275" width="1" height="4" fill="#000"/>
<rect x="23" y="275" width="1" height="4" fill="#000"/>
<rect x="26" y="271" width="1" height="1" fill="#000"/>
<rect x="26" y="277" width="1" height="1" fill="#000"/>
<rect x="25" y="272" width="3" height="1" fill="#000"/>
<rect x="25" y="276" width="3" height="1" fill="#000"/>
<rect x="25" y="272" width="1" height="5" fill="#000"/>
<rect x="27" y="272" width="1" height="5" fill="#000"/>
<rect x="30" y="261" width="1" height="1" fill="#000"/>
<rect x="30" y="273" width="1" height="8" fill="#000"/>
<rect x="29" y="262" width="3" height="1" fill="#000"/>
<rect x="29" y="272" width="3" height="1" fill="#000"/>
<rect x="29" y="262" width="1" height="11" fill="#000"/>
<rect x="31" y="262" width="1" height="11" fill="#000"/>
<rect x="34" y="234" width="1" height="3" fill="#000"/>
<rect x="34" y="263" width="1" height="7" fill="#000"/>
<rect x="33" y="237" width="3" height="1" fill="#000"/>
<rect x="33" y="262" width="3" height="1" fill="#000"/>
<rect x="33" y="237" width="1" height="26" fill="#000"/>
<rect x="35" y="237" width="1" height="26" fill="#000"/>
<rect x="38" y="231" width="1" height="30" fill="#000"/>
<rect x="37" y="237" width="3" height="8" fill="#000"/>
<rect x="42" y="236" width="1" height="4" fill="#000"/>
<rect x="42" y="246" width="1" height="4" fill="#000"/>
<rect x="41" y="240" width="3" height="1" fill="#000"/>
<rect x="41" y="245" width="3" height="1" fill="#000"/>
<rect x="41" y="240" width="1" height="6" fill="#000"/>
<rect x="43" y="240" width="1" height="6" fill="#000"/>
<rect x="46" y="235" width="1" height="16" fill="#000"/>
<rect x="45" y="238" width="3" height="13" fill="#000"/>
<rect x="50" y="240" width="1" height="2" fill="#000"/>
<rect x="49" y="242" width="3" height="1" fill="#000"/>
<rect x="49" y="250" width="3" height="1" fill="#000"/>
<rect x="49" y="242" width="1" height="9" fill="#000"/>
<rect x="51" y="242" width="1" height="9" fill="#000"/>
<rect x="54" y="229" width="1" height="8" fill="#000"/>
<rect x="54" y="243" width="1" height="8" fill="#000"/>
<rect x="53" y="237" width="3" height="1" fill="#000"/>
<rect x="53" y="242" width="3" height="1" fill="#000"/>
<rect x="53" y="237" width="1" height="6" fill="#000"/>
<rect x="55" y="237" width="1" height="6" fill="#000"/>
<rect x="58" y="230" width="1" height="13" fill="#000"/>
<rect x="57" y="236" width="3" height="2" fill="#000"/>
<rect x="62" y="230" width="1" height="11" fill="#000"/>
<rect x="61" y="235" width="3" height="3" fill="#000"/>
<rect x="66" y="231" width="1" height="7" fill="#000"/>
<rect x="65" y="235" width="3" height="1" fill="#000"/>
<rect x="70" y="234" width="1" height="7" fill="#000"/>
<rect x="69" y="236" width="3" height="2" fill="#000"/>
<rect x="74" y="230" width="1" height="5" fill="#000"/>
<rect x="73" y="235" width="3" height="1" fill="#000"/>
<rect x="73" y="237" width="3" height="1" fill="#000"/>
<rect x="73" y="235" width="1" height="3" fill="#000"/>
<rect x="75" y="235" width="1" height="3" fill="#000"/>
<rect x="78" y="226" width="1" height="6" fill="#000"/>
<rect x="78" y="237" width="1" height="1" fill="#000"/>
<rect x="77" y="232" width="3" height="1" fill="#000"/>
<rect x="77" y="236" width="3" height="1" fill="#000"/>
<rect x="77" y="232" width="1" height="5" fill="#000"/>
<rect x="79" y="232" width="1" height="5" fill="#000"/>
<rect x="82" y="232" width="1" height="13" fill="#000"/>
<rect x="81" y="232" width="3" height="12" fill="#000"/>
<rect x="86" y="226" width="1" height="11" fill="#000"/>
<rect x="86" y="243" width="1" height="6" fill="#000"/>
<rect x="85" y="237" width="3" height="1" fill="#000"/>
<rect x="85" y="242" width="3" height="1" fill="#000"/>
<rect x="85" y="237" width="1" height="6" fill="#000"/>
<rect x="87" y="237" width="1" height="6" fill="#000"/>
<rect x="90" y="237" width="1" height="8" fill="#000"/>
<rect x="89" y="237" width="3" height="7" fill="#000"/>
<rect x="94" y="238" width="1" height="12" fill="#000"/>
<rect x="93" y="242" width="3" height="4" fill="#000"/>
<rect x="98" y="241" width="1" height="7" fill="#000"/>
<rect x="97" y="244" width="3" height="2" fill="#000"/>
<rect x="102" y="244" width="1" height="17" fill="#000"/>
<rect x="101" y="245" width="3" height="5" fill="#000"/>
<rect x="106" y="216" width="1" height="7" fill="#000"/>
<rect x="105" y="223" width="3" height="1" fill="#000"/>
<rect x="105" y="250" width="3" height="1" fill="#000"/>
<rect x="105" y="223" width="1" height="28" fill="#000"/>
<rect x="107" y="223" width="1" height="28" fill="#000"/>
<rect x="110" y="219" width="1" height="16" fill="#000"/>
<rect x="109" y="223" width="3" height="5" fill="#000"/>
<rect x="114" y="225" width="1" height="6" fill="#000"/>
<rect x="113" y="226" width="3" height="4" fill="#000"/>
<rect x="118" y="228" width="1" height="5" fill="#000"/>
<rect x="117" y="229" width="3" height="2" fill="#000"/>
<rect x="122" y="226" width="1" height="9" fill="#000"/>
<rect x="121" y="229" width="3" height="2" fill="#000"/>
<rect x="126" y="223" width="1" height="10" fill="#000"/>
<rect x="125" y="229" width="3" height="1" fill="#000"/>
<rect x="130" y="218" width="1" height="17" fill="#000"/>
<rect x="129" y="229" width="3" height="1" fill="#000"/>
<rect x="134" y="212" width="1" height="4" fill="#000"/>
<rect x="134" y="230" width="1" height="9" fill="#000"/>
<rect x="133" y="216" width="3" height="1" fill="#000"/>
<rect x="133" y="229" width="3" height="1" fill="#000"/>
<rect x="133" y="216" width="1" height="14" fill="#000"/>
<rect x="135" y="216" width="1" height="14" fill="#000"/>
<rect x="138" y="213" width="1" height="5" fill="#000"/>
<rect x="137" y="216" width="3" height="2" fill="#000"/>
<rect x="142" y="214" width="1" height="7" fill="#000"/>
<rect x="141" y="217" width="3" height="3" fill="#000"/>
<rect x="146" y="214" width="1" height="2" fill="#000"/>
<rect x="146" y="220" width="1" height="1" fill="#000"/>
<rect x="145" y="216" width="3" height="1" fill="#000"/>
<rect x="145" y="219" width="3" height="1" fill="#000"/>
<rect x="145" y="216" width="1" height="4" fill="#000"/>
<rect x="147" y="216" width="1" height="4" fill="#000"/>
<rect x="150" y="194" width="1" height="6" fill="#000"/>
<rect x="149" y="200" width="3" height="1" fill="#000"/>
<rect x="149" y="216" width="3" height="1" fill="#000"/>
<rect x="149" y="200" width="1" height="17" fill="#000"/>
<rect x="151" y="200" width="1" height="17" fill="#000"/>
<rect x="154" y="192" width="1" height="2" fill="#000"/>
<rect x="154" y="201" width="1" height="20" fill="#000"/>
<rect x="153" y="194" width="3" height="1" fill="#000"/>
<rect x="153" y="200" width="3" height="1" fill="#000"/>
<rect x="153" y="194" width="1" height="7" fill="#000"/>
<rect x="155" y="194" width="1" height="7" fill="#000"/>
<rect x="158" y="175" width="1" height="7" fill="#000"/>
<rect x="158" y="195" width="1" height="4" fill="#000"/>
<rect x="157" y="182" width="3" height="1" fill="#000"/>
<rect x="157" y="194" width="3" height="1" fill="#000"/>
<rect x="157" y="182" width="1" height="13" fill="#000"/>
<rect x="159" y="182" width="1" height="13" fill="#000"/>
<rect x="162" y="180" width="1" height="11" fill="#000"/>
<rect x="161" y="181" width="3" height="5" fill="#000"/>
<rect x="166" y="179" width="1" height="11" fill="#000"/>
<rect x="165" y="181" width="3" height="5" fill="#000"/>
<rect x="170" y="185" width="1" height="10" fill="#000"/>
<rect x="169" y="185" width="3" height="9" fill="#000"/>
<rect x="174" y="181" width="1" height="17" fill="#000"/>
<rect x="173" y="192" width="3" height="1" fill="#000"/>
<rect x="178" y="184" width="1" height="19" fill="#000"/>
<rect x="177" y="192" width="3" height="11" fill="#000"/>
<rect x="182" y="181" width="1" height="5" fill="#000"/>
<rect x="182" y="204" width="1" height="2" fill="#000"/>
<rect x="181" y="186" width="3" height="1" fill="#000"/>
<rect x="181" y="203" width="3" height="1" fill="#000"/>
<rect x="181" y="186" width="1" height="18" fill="#000"/>
<rect x="183" y="186" width="1" height="18" fill="#000"/>
<rect x="186" y="183" width="1" height="13" fill="#000"/>
<rect x="185" y="185" width="3" height="10" fill="#000"/>
<rect x="190" y="189" width="1" height="2" fill="#000"/>
<rect x="190" y="195" width="1" height="3" fill="#000"/>
<rect x="189" y="191" width="3" height="1" fill="#000"/>
<rect x="189" y="194" width="3" height="1" fill="#000"/>
<rect x="189" y="191" width="1" height="4" fill="#000"/>
<rect x="191" y="191" width="1" height="4" fill="#000"/>
<rect x="194" y="181" width="1" height="4" fill="#000"/>
<rect x="194" y="192" width="1" height="2" fill="#000"/>
<rect x="193" y="185" width="3" height="1" fill="#000"/>
<rect x="193" y="191" width="3" height="1" fill="#000"/>
<rect x="193" y="185" width="1" height="7" fill="#000"/>
<rect x="195" y="185" width="1" height="7" fill="#000"/>
<rect x="198" y="175" width="1" height="5" fill="#000"/>
<rect x="198" y="186" width="1" height="5" fill="#000"/>
<rect x="197" y="180" width="3" height="1" fill="#000"/>
<rect x="197" y="185" width="3" height="1" fill="#000"/>
<rect x="197" y="180" width="1" height="6" fill="#000"/>
<rect x="199" y="180" width="1" height="6" fill="#000"/>
<rect x="202" y="172" width="1" height="1" fill="#000"/>
<rect x="202" y="181" width="1" height="6" fill="#000"/>
<rect x="201" y="173" width="3" height="1" fill="#000"/>
<rect x="201" y="180" width="3" height="1" fill="#000"/>
<rect x="201" y="173" width="1" height="8" fill="#000"/>
<rect x="203" y="173" width="1" height="8" fill="#000"/>
<rect x="206" y="155" width="1" height="5" fill="#000"/>
<rect x="206" y="174" width="1" height="4" fill="#000"/>
<rect x="205" y="160" width="3" height="1" fill="#000"/>
<rect x="205" y="173" width="3" height="1" fill="#000"/>
<rect x="205" y="160" width="1" height="14" fill="#000"/>
<rect x="207" y="160" width="1" height="14" fill="#000"/>
<rect x="210" y="156" width="1" height="7" fill="#000"/>
<rect x="209" y="159" width="3" height="1" fill="#000"/>
<rect x="214" y="157" width="1" height="6" fill="#000"/>
<rect x="213" y="159" width="3" height="2" fill="#000"/>
<rect x="218" y="153" width="1" height="5" fill="#000"/>
<rect x="217" y="158" width="3" height="1" fill="#000"/>
<rect x="217" y="162" width="3" height="1" fill="#000"/>
<rect x="217" y="158" width="1" height="5" fill="#000"/>
<rect x="219" y="158" width="1" height="5" fill="#000"/>
<rect x="222" y="135" width="1" height="7" fill="#000"/>
<rect x="222" y="159" width="1" height="3" fill="#000"/>
<rect x="221" y="142" width="3" height="1" fill="#000"/>
<rect x="221" y="158" width="3" height="1" fill="#000"/>
<rect x="221" y="142" width="1" height="17" fill="#000"/>
<rect x="223" y="142" width="1" height="17" fill="#000"/>
<rect x="226" y="139" width="1" height="18" fill="#000"/>
<rect x="225" y="142" width="3" height="13" fill="#000"/>
<rect x="230" y="141" width="1" height="4" fill="#000"/>
<rect x="230" y="155" width="1" height="2" fill="#000"/>
<rect x="229" y="145" width="3" height="1" fill="#000"/>
<rect x="229" y="154" width="3" height="1" fill="#000"/>
<rect x="229" y="145" width="1" height="10" fill="#000"/>
<rect x="231" y="145" width="1" height="10" fill="#000"/>
<rect x="234" y="142" width="1" height="8" fill="#000"/>
<rect x="233" y="145" width="3" height="1" fill="#000"/>
<rect x="238" y="142" width="1" height="5" fill="#000"/>
<rect x="237" y="144" width="3" height="2" fill="#000"/>
<rect x="242" y="137" width="1" height="4" fill="#000"/>
<rect x="242" y="146" width="1" height="2" fill="#000"/>
<rect x="241" y="141" width="3" height="1" fill="#000"/>
<rect x="241" y="145" width="3" height="1" fill="#000"/>
<rect x="241" y="141" width="1" height="5" fill="#000"/>
<rect x="243" y="141" width="1" height="5" fill="#000"/>
<rect x="246" y="139" width="1" height="9" fill="#000"/>
<rect x="245" y="141" width="3" height="1" fill="#000"/>
<rect x="250" y="139" width="1" height="14" fill="#000"/>
<rect x="249" y="141" width="3" height="9" fill="#000"/>
<rect x="254" y="124" width="1" height="18" fill="#000"/>
<rect x="254" y="150" width="1" height="9" fill="#000"/>
<rect x="253" y="142" width="3" height="1" fill="#000"/>
<rect x="253" y="149" width="3" height="1" fill="#000"/>
<rect x="253" y="142" width="1" height="8" fill="#000"/>
<rect x="255" y="142" width="1" height="8" fill="#000"/>
<rect x="258" y="117" width="1" height="8" fill="#000"/>
<rect x="258" y="143" width="1" height="2" fill="#000"/>
<rect x="257" y="125" width="3" height="1" fill="#000"/>
<rect x="257" y="142" width="3" height="1" fill="#000"/>
<rect x="257" y="125" width="1" height="18" fill="#000"/>
<rect x="259" y="125" width="1" height="18" fill="#000"/>
<rect x="262" y="124" width="1" height="7" fill="#000"/>
<rect x="261" y="125" width="3" height="2" fill="#000"/>
<rect x="266" y="104" width="1" height="3" fill="#000"/>
<rect x="265" y="107" width="3" height="1" fill="#000"/>
<rect x="265" y="126" width="3" height="1" fill="#000"/>
<rect x="265" y="107" width="1" height="20" fill="#000"/>
<rect x="267" y="107" width="1" height="20" fill="#000"/>
<rect x="270" y="104" width="1" height="10" fill="#000"/>
<rect x="269" y="107" width="3" height="4" fill="#000"/>
<rect x="274" y="86" width="1" height="17" fill="#000"/>
<rect x="274" y="111" width="1" height="2" fill="#000"/>
<rect x="273" y="103" width="3" height="1" fill="#000"/>
<rect x="273" y="110" width="3" height="1" fill="#000"/>
<rect x="273" y="103" width="1" height="8" fill="#000"/>
<rect x="275" y="103" width="1" height="8" fill="#000"/>
<rect x="278" y="84" width="1" height="7" fill="#000"/>
<rect x="278" y="105" width="1" height="1" fill="#000"/>
<rect x="277" y="91" width="3" height="1" fill="#000"/>
<rect x="277" y="104" width="3" height="1" fill="#000"/>
<rect x="277" y="91" width="1" height="14" fill="#000"/>
<rect x="279" y="91" width="1" height="14" fill="#000"/>
<rect x="282" y="89" width="1" height="14" fill="#000"/>
<rect x="281" y="91" width="3" height="6" fill="#000"/>
<rect x="286" y="91" width="1" height="12" fill="#000"/>
<rect x="285" y="97" width="3" height="3" fill="#000"/>
<rect x="290" y="94" width="1" height="2" fill="#000"/>
<rect x="290" y="100" width="1" height="1" fill="#000"/>
<rect x="289" y="96" width="3" height="1" fill="#000"/>
<rect x="289" y="99" width="3" height="1" fill="#000"/>
<rect x="289" y="96" width="1" height="4" fill="#000"/>
<rect x="291" y="96" width="1" height="4" fill="#000"/>
<rect x="294" y="93" width="1" height="10" fill="#000"/>
<rect x="293" y="95" width="3" height="2" fill="#000"/>
<rect x="298" y="86" width="1" height="2" fill="#000"/>
<rect x="298" y="96" width="1" height="7" fill="#000"/>
<rect x="297" y="88" width="3" height="1" fill="#000"/>
<rect x="297" y="95" width="3" height="1" fill="#000"/>
<rect x="297" y="88" width="1" height="8" fill="#000"/>
<rect x="299" y="88" width="1" height="8" fill="#000"/>
<rect x="302" y="77" width="1" height="6" fill="#000"/>
<rect x="302" y="89" width="1" height="4" fill="#000"/>
<rect x="301" y="83" width="3" height="1" fill="#000"/>
<rect x="301" y="88" width="3" height="1" fill="#000"/>
<rect x="301" y="83" width="1" height="6" fill="#000"/>
<rect x="303" y="83" width="1" height="6" fill="#000"/>
<rect x="306" y="81" width="1" height="13" fill="#000"/>
<rect x="305" y="83" width="3" height="5" fill="#000"/>
<rect x="310" y="80" width="1" height="14" fill="#000"/>
<rect x="309" y="87" width="3" height="7" fill="#000"/>
<rect x="314" y="83" width="1" height="4" fill="#000"/>
<rect x="313" y="87" width="3" height="1" fill="#000"/>
<rect x="313" y="93" width="3" height="1" fill="#000"/>
<rect x="313" y="87" width="1" height="7" fill="#000"/>
<rect x="315" y="87" width="1" height="7" fill="#000"/>
<rect x="318" y="85" width="1" height="14" fill="#000"/>
<rect x="317" y="87" width="3" height="5" fill="#000"/>
<rect x="322" y="82" width="1" height="3" fill="#000"/>
<rect x="322" y="92" width="1" height="4" fill="#000"/>
<rect x="321" y="85" width="3" height="1" fill="#000"/>
<rect x="321" y="91" width="3" height="1" fill="#000"/>
<rect x="321" y="85" width="1" height="7" fill="#000"/>
<rect x="323" y="85" width="1" height="7" fill="#000"/>
<rect x="326" y="80" width="1" height="16" fill="#000"/>
<rect x="325" y="85" width="3" height="6" fill="#000"/>
<rect x="330" y="87" width="1" height="6" fill="#000"/>
<rect x="329" y="89" width="3" height="2" fill="#000"/>
<rect x="334" y="88" width="1" height="6" fill="#000"/>
<rect x="333" y="89" width="3" height="3" fill="#000"/>
<rect x="338" y="84" width="1" height="1" fill="#000"/>
<rect x="338" y="92" width="1" height="2" fill="#000"/>
<rect x="337" y="85" width="3" height="1" fill="#000"/>
<rect x="337" y="91" width="3" height="1" fill="#000"/>
<rect x="337" y="85" width="1" height="7" fill="#000"/>
<rect x="339" y="85" width="1" height="7" fill="#000"/>
<rect x="342" y="78" width="1" height="15" fill="#000"/>
<rect x="341" y="85" width="3" height="8" fill="#000"/>
<rect x="346" y="87" width="1" height="27" fill="#000"/>
<rect x="345" y="92" width="3" height="11" fill="#000"/>
<rect x="350" y="92" width="1" height="6" fill="#000"/>
<rect x="350" y="103" width="1" height="5" fill="#000"/>
<rect x="349" y="98" width="3" height="1" fill="#000"/>
<rect x="349" y="102" width="3" height="1" fill="#000"/>
<rect x="349" y="98" width="1" height="5" fill="#000"/>
<rect x="351" y="98" width="1" height="5" fill="#000"/>
<rect x="354" y="94" width="1" height="9" fill="#000"/>
<rect x="353" y="98" width="3" height="1" fill="#000"/>
<rect x="358" y="93" width="1" height="3" fill="#000"/>
<rect x="358" y="99" width="1" height="2" fill="#000"/>
<rect x="357" y="96" width="3" height="1" fill="#000"/>
<rect x="357" y="98" width="3" height="1" fill="#000"/>
<rect x="357" y="96" width="1" height="3" fill="#000"/>
<rect x="359" y="96" width="1" height="3" fill="#000"/>
<rect x="362" y="92" width="1" height="17" fill="#000"/>
<rect x="361" y="96" width="3" height="11" fill="#000"/>
<rect x="366" y="104" width="1" height="19" fill="#000"/>
<rect x="365" y="105" width="3" height="3" fill="#000"/>
<rect x="370" y="106" width="1" height="14" fill="#000"/>
<rect x="369" y="107" width="3" height="9" fill="#000"/>
<rect x="374" y="103" width="1" height="8" fill="#000"/>
<rect x="374" y="116" width="1" height="4" fill="#000"/>
<rect x="373" y="111" width="3" height="1" fill="#000"/>
<rect x="373" y="115" width="3" height="1" fill="#000"/>
<rect x="373" y="111" width="1" height="5" fill="#000"/>
<rect x="375" y="111" width="1" height="5" fill="#000"/>
<rect x="378" y="99" width="1" height="2" fill="#000"/>
<rect x="378" y="112" width="1" height="1" fill="#000"/>
<rect x="377" y="101" width="3" height="1" fill="#000"/>
<rect x="377" y="111" width="3" height="1" fill="#000"/>
<rect x="377" y="101" width="1" height="11" fill="#000"/>
<rect x="379" y="101" width="1" height="11" fill="#000"/>
<rect x="382" y="95" width="1" height="3" fill="#000"/>
<rect x="381" y="98" width="3" height="1" fill="#000"/>
<rect x="381" y="101" width="3" height="1" fill="#000"/>
<rect x="381" y="98" width="1" height="4" fill="#000"/>
<rect x="383" y="98" width="1" height="4" fill="#000"/>
<rect x="386" y="82" width="1" height="3" fill="#000"/>
<rect x="386" y="99" width="1" height="3" fill="#000"/>
<rect x="385" y="85" width="3" height="1" fill="#000"/>
<rect x="385" y="98" width="3" height="1" fill="#000"/>
<rect x="385" y="85" width="1" height="14" fill="#000"/>
<rect x="387" y="85" width="1" height="14" fill="#000"/>
<rect x="390" y="63" width="1" height="2" fill="#000"/>
<rect x="390" y="86" width="1" height="10" fill="#000"/>
<rect x="389" y="65" width="3" height="1" fill="#000"/>
<rect x="389" y="85" width="3" height="1" fill="#000"/>
<rect x="389" y="65" width="1" height="21" fill="#000"/>
<rect x="391" y="65" width="1" height="21" fill="#000"/>
<rect x="394" y="62" width="1" height="23" fill="#000"/>
<rect x="393" y="65" width="3" height="5" fill="#000"/>
<rect x="398" y="68" width="1" height="26" fill="#000"/>
<rect x="397" y="69" width="3" height="18" fill="#000"/>
<rect x="402" y="83" width="1" height="9" fill="#000"/>
<rect x="401" y="86" width="3" height="1" fill="#000"/>
<rect x="406" y="85" width="1" height="27" fill="#000"/>
<rect x="405" y="92" width="3" height="4" fill="#000"/>
<rect x="410" y="95" width="1" height="13" fill="#000"/>
<rect x="409" y="95" width="3" height="6" fill="#000"/>
<rect x="414" y="89" width="1" height="23" fill="#000"/>
<rect x="413" y="100" width="3" height="8" fill="#000"/>
<rect x="418" y="99" width="1" height="14" fill="#000"/>
<rect x="417" y="107" width="3" height="4" fill="#000"/>
<rect x="422" y="111" width="1" height="5" fill="#000"/>
<rect x="421" y="105" width="3" height="1" fill="#000"/>
<rect x="421" y="110" width="3" height="1" fill="#000"/>
<rect x="421" y="105" width="1" height="6" fill="#000"/>
<rect x="423" y="105" width="1" height="6" fill="#000"/>
<rect x="426" y="93" width="1" height="6" fill="#000"/>
<rect x="425" y="99" width="3" height="1" fill="#000"/>
<rect x="425" y="106" width="3" height="1" fill="#000"/>
<rect x="425" y="99" width="1" height="8" fill="#000"/>
<rect x="427" y="99" width="1" height="8" fill="#000"/>
<rect x="430" y="94" width="1" height="3" fill="#000"/>
<rect x="429" y="97" width="3" height="1" fill="#000"/>
<rect x="429" y="100" width="3" height="1" fill="#000"/>
<rect x="429" y="97" width="1" height="4" fill="#000"/>
<rect x="431" y="97" width="1" height="4" fill="#000"/>
<rect x="434" y="92" width="1" height="8" fill="#000"/>
<rect x="433" y="96" width="3" height="3" fill="#000"/>
<rect x="438" y="80" width="1" height="11" fill="#000"/>
<rect x="438" y="97" width="1" height="4" fill="#000"/>
<rect x="437" y="91" width="3" height="1" fill="#000"/>
<rect x="437" y="96" width="3" height="1" fill="#000"/>
<rect x="437" y="91" width="1" height="6" fill="#000"/>
<rect x="439" y="91" width="1" height="6" fill="#000"/>
<rect x="442" y="80" width="1" height="8" fill="#000"/>
<rect x="442" y="92" width="1" height="9" fill="#000"/>
<rect x="441" y="88" width="3" height="1" fill="#000"/>
<rect x="441" y="91" width="3" height="1" fill="#000"/>
<rect x="441" y="88" width="1" height="4" fill="#000"/>
<rect x="443" y="88" width="1" height="4" fill="#000"/>
<rect x="446" y="80" width="1" height="23" fill="#000"/>
<rect x="445" y="88" width="3" height="11" fill="#000"/>
<rect x="450" y="96" width="1" height="20" fill="#000"/>
<rect x="449" y="98" width="3" height="15" fill="#000"/>
<rect x="453" y="105" width="3" height="1" fill="#000"/>
<rect x="453" y="112" width="3" height="1" fill="#000"/>
<rect x="453" y="105" width="1" height="8" fill="#000"/>
<rect x="455" y="105" width="1" height="8" fill="#000"/>
<rect x="458" y="103" width="1" height="26" fill="#000"/>
<rect x="457" y="105" width="3" height="16" fill="#000"/>
<rect x="462" y="113" width="1" height="1" fill="#000"/>
<rect x="462" y="121" width="1" height="7" fill="#000"/>
<rect x="461" y="114" width="3" height="1" fill="#000"/>
<rect x="461" y="120" width="3" height="1" fill="#000"/>
<rect x="461" y="114" width="1" height="7" fill="#000"/>
<rect x="463" y="114" width="1" height="7" fill="#000"/>
<rect x="466" y="106" width="1" height="21" fill="#000"/>
<rect x="465" y="114" width="3" height="7" fill="#000"/>
<rect x="470" y="116" width="1" height="19" fill="#000"/>
<rect x="469" y="120" width="3" height="4" fill="#000"/>
<rect x="474" y="120" width="1" height="1" fill="#000"/>
<rect x="474" y="124" width="1" height="6" fill="#000"/>
<rect x="473" y="121" width="3" height="1" fill="#000"/>
<rect x="473" y="123" width="3" height="1" fill="#000"/>
<rect x="473" y="121" width="1" height="3" fill="#000"/>
<rect x="475" y="121" width="1" height="3" fill="#000"/>
<rect x="478" y="114" width="1" height="2" fill="#000"/>
<rect x="478" y="122" width="1" height="2" fill="#000"/>
<rect x="477" y="116" width="3" height="1" fill="#000"/>
<rect x="477" y="121" width="3" height="1" fill="#000"/>
<rect x="477" y="116" width="1" height="6" fill="#000"/>
<rect x="479" y="116" width="1" height="6" fill="#000"/>
<rect x="482" y="110" width="1" height="2" fill="#000"/>
<rect x="481" y="112" width="3" height="1" fill="#000"/>
<rect x="481" y="116" width="3" height="1" fill="#000"/>
<rect x="481" y="112" width="1" height="5" fill="#000"/>
<rect x="483" y="112" width="1" height="5" fill="#000"/>
<rect x="486" y="105" width="1" height="17" fill="#000"/>
<rect x="485" y="111" width="3" height="2" fill="#000"/>
<rect x="490" y="92" width="1" height="2" fill="#000"/>
<rect x="490" y="112" width="1" height="4" fill="#000"/>
<rect x="489" y="94" width="3" height="1" fill="#000"/>
<rect x="489" y="111" width="3" height="1" fill="#000"/>
<rect x="489" y="94" width="1" height="18" fill="#000"/>
<rect x="491" y="94" width="1" height="18" fill="#000"/>
<rect x="494" y="93" width="1" height="26" fill="#000"/>
<rect x="493" y="94" width="3" height="6" fill="#000"/>
<rect x="498" y="89" width="1" height="3" fill="#000"/>
<rect x="498" y="100" width="1" height="1" fill="#000"/>
<rect x="497" y="92" width="3" height="1" fill="#000"/>
<rect x="497" y="99" width="3" height="1" fill="#000"/>
<rect x="497" y="92" width="1" height="8" fill="#000"/>
<rect x="499" y="92" width="1" height="8" fill="#000"/>
<rect x="502" y="90" width="1" height="7" fill="#000"/>
<rect x="501" y="92" width="3" height="1" fill="#000"/>
<rect x="506" y="81" width="1" height="1" fill="#000"/>
<rect x="506" y="93" width="1" height="2" fill="#000"/>
<rect x="505" y="82" width="3" height="1" fill="#000"/>
<rect x="505" y="92" width="3" height="1" fill="#000"/>
<rect x="505" y="82" width="1" height="11" fill="#000"/>
<rect x="507" y="82" width="1" height="11" fill="#000"/>
<rect x="510" y="77" width="1" height="23" fill="#000"/>
<rect x="509" y="82" width="3" height="15" fill="#000"/>
<rect x="514" y="94" width="1" height="22" fill="#000"/>
<rect x="513" y="96" width="3" height="10" fill="#000"/>
<rect x="518" y="100" width="1" height="43" fill="#000"/>
<rect x="517" y="105" width="3" height="22" fill="#000"/>
<rect x="522" y="121" width="1" height="18" fill="#000"/>
<rect x="521" y="126" width="3" height="6" fill="#000"/>
<rect x="526" y="121" width="1" height="21" fill="#000"/>
<rect x="525" y="130" width="3" height="8" fill="#000"/>
<rect x="530" y="134" width="1" height="11" fill="#000"/>
<rect x="529" y="136" width="3" height="2" fill="#000"/>
<rect x="534" y="124" width="1" height="3" fill="#000"/>
<rect x="534" y="138" width="1" height="1" fill="#000"/>
<rect x="533" y="127" width="3" height="1" fill="#000"/>
<rect x="533" y="137" width="3" height="1" fill="#000"/>
<rect x="533" y="127" width="1" height="11" fill="#000"/>
<rect x="535" y="127" width="1" height="11" fill="#000"/>
<rect x="538" y="121" width="1" height="3" fill="#000"/>
<rect x="538" y="128" width="1" height="8" fill="#000"/>
<rect x="537" y="124" width="3" height="1" fill="#000"/>
<rect x="537" y="127" width="3" height="1" fill="#000"/>
<rect x="537" y="124" width="1" height="4" fill="#000"/>
<rect x="539" y="124" width="1" height="4" fill="#000"/>
<rect x="542" y="117" width="1" height="22" fill="#000"/>
<rect x="541" y="125" width="3" height="10" fill="#000"/>
<rect x="546" y="130" width="1" height="10" fill="#000"/>
<rect x="545" y="133" width="3" height="3" fill="#000"/>
<rect x="550" y="133" width="1" height="5" fill="#000"/>
<rect x="549" y="134" width="3" height="3" fill="#000"/>
<rect x="554" y="127" width="1" height="1" fill="#000"/>
<rect x="553" y="128" width="3" height="1" fill="#000"/>
<rect x="553" y="136" width="3" height="1" fill="#000"/>
<rect x="553" y="128" width="1" height="9" fill="#000"/>
<rect x="555" y="128" width="1" height="9" fill="#000"/>
<rect x="558" y="122" width="1" height="3" fill="#000"/>
<rect x="558" y="129" width="1" height="5" fill="#000"/>
<rect x="557" y="125" width="3" height="1" fill="#000"/>
<rect x="557" y="128" width="3" height="1" fill="#000"/>
<rect x="557" y="125" width="1" height="4" fill="#000"/>
<rect x="559" y="125" width="1" height="4" fill="#000"/>
<rect x="562" y="119" width="1" height="17" fill="#000"/>
<rect x="561" y="125" width="3" height="7" fill="#000"/>
<rect x="566" y="112" width="1" height="10" fill="#000"/>
<rect x="566" y="131" width="1" height="4" fill="#000"/>
<rect x="565" y="122" width="3" height="1" fill="#000"/>
<rect x="565" y="130" width="3" height="1" fill="#000"/>
<rect x="565" y="122" width="1" height="9" fill="#000"/>
<rect x="567" y="122" width="1" height="9" fill="#000"/>
<rect x="570" y="120" width="1" height="17" fill="#000"/>
<rect x="569" y="122" width="3" height="13" fill="#000"/>
<rect x="574" y="132" width="1" height="6" fill="#000"/>
<rect x="573" y="134" width="3" height="4" fill="#000"/>
<rect x="578" y="130" width="1" height="10" fill="#000"/>
<rect x="577" y="137" width="3" height="2" fill="#000"/>
<rect x="582" y="135" width="1" height="20" fill="#000"/>
<rect x="581" y="137" width="3" height="6" fill="#000"/>
<rect x="586" y="137" width="1" height="17" fill="#000"/>
<rect x="585" y="142" width="3" height="8" fill="#000"/>
<rect x="590" y="145" width="1" height="16" fill="#000"/>
<rect x="589" y="148" width="3" height="7" fill="#000"/>
<rect x="594" y="152" width="1" height="10" fill="#000"/>
<rect x="593" y="154" width="3" height="5" fill="#000"/>
<rect x="598" y="147" width="1" height="4" fill="#000"/>
<rect x="597" y="151" width="3" height="1" fill="#000"/>
<rect x="597" y="159" width="3" height="1" fill="#000"/>
<rect x="597" y="151" width="1" height="9" fill="#000"/>
<rect x="599" y="151" width="1" height="9" fill="#000"/>
<rect x="602" y="152" width="1" height="4" fill="#000"/>
<rect x="601" y="145" width="3" height="1" fill="#000"/>
<rect x="601" y="151" width="3" height="1" fill="#000"/>
<rect x="601" y="145" width="1" height="7" fill="#000"/>
<rect x="603" y="145" width="1" height="7" fill="#000"/>
<rect x="606" y="134" width="1" height="9" fill="#000"/>
<rect x="606" y="146" width="1" height="5" fill="#000"/>
<rect x="605" y="143" width="3" height="1" fill="#000"/>
<rect x="605" y="145" width="3" height="1" fill="#000"/>
<rect x="605" y="143" width="1" height="3" fill="#000"/>
<rect x="607" y="143" width="1" height="3" fill="#000"/>
<rect x="610" y="140" width="1" height="1" fill="#000"/>
<rect x="610" y="144" width="1" height="3" fill="#000"/>
<rect x="609" y="141" width="3" height="1" fill="#000"/>
<rect x="609" y="143" width="3" height="1" fill="#000"/>
<rect x="609" y="141" width="1" height="3" fill="#000"/>
<rect x="611" y="141" width="1" height="3" fill="#000"/>
<rect x="2" y="65" width="696" height="1" fill="#ff0000"/>
<rect x="2" y="384" width="1" height="6" fill="#0000ff"/>
<rect x="6" y="385" width="1" height="5" fill="#0000ff"/>
<rect x="10" y="383" width="1" height="7" fill="#0000ff"/>
<rect x="14" y="387" width="1" height="3" fill="#0000ff"/>
<rect x="18" y="388" width="1" height="2" fill="#0000ff"/>
<rect x="22" y="389" width="1" height="2" fill="#0000ff"/>
<rect x="26" y="389" width="1" height="4" fill="#0000ff"/>
<rect x="34" y="383" width="1" height="7" fill="#0000ff"/>
<rect x="38" y="380" width="1" height="10" fill="#0000ff"/>
<rect x="42" y="377" width="1" height="13" fill="#0000ff"/>
<rect x="46" y="378" width="1" height="12" fill="#0000ff"/>
<rect x="50" y="377" width="1" height="13" fill="#0000ff"/>
<rect x="54" y="375" width="1" height="15" fill="#0000ff"/>
<rect x="58" y="374" width="1" height="16" fill="#0000ff"/>
<rect x="62" y="374" width="1" height="16" fill="#0000ff"/>
<rect x="66" y="374" width="1" height="16" fill="#0000ff"/>
<rect x="70" y="373" width="1" height="17" fill="#0000ff"/>
<rect x="74" y="374" width="1" height="16" fill="#0000ff"/>
<rect x="78" y="374" width="1" height="16" fill="#0000ff"/>
<rect x="82" y="376" width="1" height="14" fill="#0000ff"/>
<rect x="86" y="378" width="1" height="12" fill="#0000ff"/>
<rect x="90" y="380" width="1" height="10" fill="#0000ff"/>
<rect x="94" y="381" width="1" height="9" fill="#0000ff"/>
<rect x="98" y="383" width="1" height="7" fill="#0000ff"/>
<rect x="102" y="385" width="1" height="5" fill="#0000ff"/>
<rect x="106" y="380" width="1" height="10" fill="#0000ff"/>
<rect x="110" y="378" width="1" height="12" fill="#0000ff"/>
<rect x="114" y="377" width="1" height="13" fill="#0000ff"/>
<rect x="118" y="377" width="1" height="13" fill="#0000ff"/>
<rect x="122" y="377" width="1" height="13" fill="#0000ff"/>
<rect x="126" y="377" width="1" height="13" fill="#0000ff"/>
<rect x="130" y="377" width="1" height="13" fill="#0000ff"/>
<rect x="134" y="376" width="1" height="14" fill="#0000ff"/>
<rect x="138" y="374" width="1" height="16" fill="#0000ff"/>
<rect x="142" y="374" width="1" height="16" fill="#0000ff"/>
<rect x="146" y="374" width="1" height="16" fill="#0000ff"/>
<rect x="150" y="370" width="1" height="20" fill="#0000ff"/>
<rect x="154" y="367" width="1" height="23" fill="#0000ff"/>
<rect x="158" y="362" width="1" height="28" fill="#0000ff"/>
<rect x="162" y="360" width="1" height="30" fill="#0000ff"/>
<rect x="166" y="360" width="1" height="30" fill="#0000ff"/>
<rect x="170" y="361" width="1" height="29" fill="#0000ff"/>
<rect x="174" y="363" width="1" height="27" fill="#0000ff"/>
<rect x="178" y="367" width="1" height="23" fill="#0000ff"/>
<rect x="182" y="366" width="1" height="24" fill="#0000ff"/>
<rect x="186" y="368" width="1" height="22" fill="#0000ff"/>
<rect x="190" y="369" width="1" height="21" fill="#0000ff"/>
<rect x="194" y="369" width="1" height="21" fill="#0000ff"/>
<rect x="198" y="367" width="1" height="23" fill="#0000ff"/>
<rect x="202" y="365" width="1" height="25" fill="#0000ff"/>
<rect x="206" y="361" width="1" height="29" fill="#0000ff"/>
<rect x="210" y="359" width="1" height="31" fill="#0000ff"/>
<rect x="214" y="359" width="1" height="31" fill="#0000ff"/>
<rect x="218" y="358" width="1" height="32" fill="#0000ff"/>
<rect x="222" y="355" width="1" height="35" fill="#0000ff"/>
<rect x="226" y="356" width="1" height="34" fill="#0000ff"/>
<rect x="230" y="355" width="1" height="35" fill="#0000ff"/>
<rect x="234" y="355" width="1" height="35" fill="#0000ff"/>
<rect x="238" y="356" width="1" height="34" fill="#0000ff"/>
<rect x="242" y="355" width="1" height="35" fill="#0000ff"/>
<rect x="246" y="357" width="1" height="33" fill="#0000ff"/>
<rect x="250" y="360" width="1" height="30" fill="#0000ff"/>
<rect x="254" y="361" width="1" height="29" fill="#0000ff"/>
<rect x="258" y="358" width="1" height="32" fill="#0000ff"/>
<rect x="262" y="357" width="1" height="33" fill="#0000ff"/>
<rect x="266" y="352" width="1" height="38" fill="#0000ff"/>
<rect x="270" y="350" width="1" height="40" fill="#0000ff"/>
<rect x="274" y="348" width="1" height="42" fill="#0000ff"/>
<rect x="278" y="345" width="1" height="45" fill="#0000ff"/>
<rect x="282" y="345" width="1" height="45" fill="#0000ff"/>
<rect x="286" y="345" width="1" height="45" fill="#0000ff"/>
<rect x="290" y="347" width="1" height="43" fill="#0000ff"/>
<rect x="294" y="349" width="1" height="41" fill="#0000ff"/>
<rect x="298" y="349" width="1" height="41" fill="#0000ff"/>
<rect x="302" y="348" width="1" height="42" fill="#0000ff"/>
<rect x="306" y="349" width="1" height="41" fill="#0000ff"/>
<rect x="310" y="352" width="1" height="38" fill="#0000ff"/>
<rect x="314" y="354" width="1" height="36" fill="#0000ff"/>
<rect x="318" y="356" width="1" height="34" fill="#0000ff"/>
<rect x="322" y="357" width="1" height="33" fill="#0000ff"/>
<rect x="326" y="359" width="1" height="31" fill="#0000ff"/>
<rect x="330" y="361" width="1" height="29" fill="#0000ff"/>
<rect x="334" y="363" width="1" height="27" fill="#0000ff"/>
<rect x="338" y="363" width="1" height="27" fill="#0000ff"/>
<rect x="342" y="366" width="1" height="24" fill="#0000ff"/>
<rect x="346" y="370" width="1" height="20" fill="#0000ff"/>
<rect x="350" y="373" width="1" height="17" fill="#0000ff"/>
<rect x="354" y="374" width="1" height="16" fill="#0000ff"/>
<rect x="358" y="375" width="1" height="15" fill="#0000ff"/>
<rect x="362" y="378" width="1" height="12" fill="#0000ff"/>
<rect x="366" y="381" width="1" height="9" fill="#0000ff"/>
<rect x="370" y="385" width="1" height="5" fill="#0000ff"/>
<rect x="374" y="386" width="1" height="4" fill="#0000ff"/>
<rect x="378" y="385" width="1" height="5" fill="#0000ff"/>
<rect x="382" y="383" width="1" height="7" fill="#0000ff"/>
<rect x="386" y="379" width="1" height="11" fill="#0000ff"/>
<rect x="390" y="372" width="1" height="18" fill="#0000ff"/>
<rect x="394" y="368" width="1" height="22" fill="#0000ff"/>
<rect x="398" y="371" width="1" height="19" fill="#0000ff"/>
<rect x="402" y="373" width="1" height="17" fill="#0000ff"/>
<rect x="406" y="377" width="1" height="13" fill="#0000ff"/>
<rect x="410" y="381" width="1" height="9" fill="#0000ff"/>
<rect x="414" y="385" width="1" height="5" fill="#0000ff"/>
<rect x="418" y="388" width="1" height="2" fill="#0000ff"/>
<rect x="426" y="389" width="1" height="1" fill="#0000ff"/>
<rect x="430" y="387" width="1" height="3" fill="#0000ff"/>
<rect x="434" y="387" width="1" height="3" fill="#0000ff"/>
<rect x="438" y="385" width="1" height="5" fill="#0000ff"/>
<rect x="442" y="384" width="1" height="6" fill="#0000ff"/>
<rect x="446" y="385" width="1" height="5" fill="#0000ff"/>
<rect x="454" y="388" width="1" height="2" fill="#0000ff"/>
<rect x="458" y="389" width="1" height="6" fill="#0000ff"/>
<rect x="462" y="389" width="1" height="6" fill="#0000ff"/>
<rect x="466" y="389" width="1" height="9" fill="#0000ff"/>
<rect x="470" y="389" width="1" height="11" fill="#0000ff"/>
<rect x="474" y="389" width="1" height="12" fill="#0000ff"/>
<rect x="478" y="389" width="1" height="10" fill="#0000ff"/>
<rect x="482" y="389" width="1" height="8" fill="#0000ff"/>
<rect x="486" y="389" width="1" height="6" fill="#0000ff"/>
<rect x="490" y="389" width="1" height="1" fill="#0000ff"/>
<rect x="494" y="387" width="1" height="3" fill="#0000ff"/>
<rect x="498" y="386" width="1" height="4" fill="#0000ff"/>
<rect x="502" y="384" width="1" height="6" fill="#0000ff"/>
<rect x="506" y="380" width="1" height="10" fill="#0000ff"/>
<rect x="510" y="382" width="1" height="8" fill="#0000ff"/>
<rect x="514" y="385" width="1" height="5" fill="#0000ff"/>
<rect x="518" y="389" width="1" height="3" fill="#0000ff"/>
<rect x="522" y="389" width="1" height="9" fill="#0000ff"/>
<rect x="526" y="389" width="1" height="14" fill="#0000ff"/>
<rect x="530" y="389" width="1" height="17" fill="#0000ff"/>
<rect x="534" y="389" width="1" height="16" fill="#0000ff"/>
<rect x="538" y="389" width="1" height="14" fill="#0000ff"/>
<rect x="542" y="389" width="1" height="15" fill="#0000ff"/>
<rect x="546" y="389" width="1" height="16" fill="#0000ff"/>
<rect x="550" y="389" width="1" height="17" fill="#0000ff"/>
<rect x="554" y="389" width="1" height="14" fill="#0000ff"/>
<rect x="558" y="389" width="1" height="13" fill="#0000ff"/>
<rect x="562" y="389" width="1" height="11" fill="#0000ff"/>
<rect x="566" y="389" width="1" height="9" fill="#0000ff"/>
<rect x="570" y="389" width="1" height="11" fill="#0000ff"/>
<rect x="574" y="389" width="1" height="12" fill="#0000ff"/>
<rect x="578" y="389" width="1" height="12" fill="#0000ff"/>
<rect x="582" y="389" width="1" height="13" fill="#0000ff"/>
<rect x="586" y="389" width="1" height="17" fill="#0000ff"/>
<rect x="590" y="389" width="1" height="19" fill="#0000ff"/>
<rect x="594" y="389" width="1" height="21" fill="#0000ff"/>
<rect x="598" y="389" width="1" height="20" fill="#0000ff"/>
<rect x="602" y="389" width="1" height="18" fill="#0000ff"/>
<rect x="606" y="389" width="1" height="16" fill="#0000ff"/>
<rect x="610" y="389" width="1" height="13" fill="#0000ff"/>
<polyline points="2.50,382.10 10.50,382.10 14.50,383.30 22.50,387.00 26.50,389.50 30.50,390.00 34.50,390.00 38.50,387.50 42.50,384.00 46.50,382.50 50.50,378.50 54.50,376.50 58.50,375.50 62.50,374.50 66.50,374.00 70.50,373.50 74.50,373.50 78.50,373.50 82.50,374.50 86.50,375.50 90.50,376.10 94.50,377.50 98.50,379.50 102.50,380.00 106.50,381.00 110.50,381.00 114.50,380.50 118.50,379.00 122.50,378.00 126.50,377.50 130.50,377.50 134.50,377.00 138.50,376.50 142.50,376.00 146.50,375.50 150.50,373.50 154.50,371.50 158.50,368.50 162.50,365.50 166.50,363.50 170.50,362.00 174.50,360.50 178.50,361.50 182.50,363.50 186.50,364.00 190.50,366.00 194.50,367.50 198.50,368.00 202.50,368.00 206.50,365.50 210.50,364.50 214.50,362.00 218.50,360.00 222.50,358.50 226.50,357.00 230.50,356.50 234.50,356.00 238.50,355.00 242.50,356.00 246.50,356.00 250.50,357.00 254.50,358.00 258.50,358.00 262.50,358.00 266.50,356.10 270.50,354.00 274.50,353.00 278.50,349.50 282.50,348.50 286.50,347.00 290.50,346.00 294.50,346.00 298.50,346.50 302.50,348.00 306.50,348.00 310.50,348.50 314.50,349.50 318.50,350.50 322.50,353.00 326.50,354.50 330.50,356.00 334.50,357.50 338.50,360.50 342.50,362.50 346.50,364.50 350.50,367.00 354.50,368.50 358.50,371.00 362.50,373.50 366.50,375.50 370.50,378.50 374.50,381.00 378.50,382.50 382.50,384.00 386.50,383.50 390.50,380.50 394.50,377.50 398.50,374.50 402.50,373.50 406.50,372.00 410.50,373.50 414.50,376.00 418.50,379.50 422.50,383.00 426.50,386.00 430.50,388.00 434.50,388.00 438.50,387.50 442.50,386.50 446.50,386.00 450.50,386.00 454.50,387.00 458.50,388.50 462.50,390.50 466.50,393.50 470.50,395.50 474.50,398.00 478.50,398.50 482.50,399.00 486.50,398.50 490.50,397.00 494.50,394.50 498.50,391.50 502.50,390.00 506.50,386.50 510.50,384.00 514.50,383.00 518.50,384.50 522.50,386.50 526.50,390.00 530.50,396.10 534.50,400.00 538.50,402.00 542.50,404.00 546.50,404.50 550.50,405.00 554.50,405.00 558.50,404.50 562.50,404.00 566.50,402.00 570.50,401.50 574.50,401.00 578.50,401.00 582.50,401.00 586.50,402.00 590.50,403.50 594.50,405.50 598.50,407.50 602.50,408.00 606.50,408.00 610.50,406.50" fill="none" stroke="#ff0000" stroke-width="1" stroke-dasharray="3 3"/>
<rect x="3" y="430" width="692" height="1" fill="url(#lv)"/>
<rect x="3" y="471" width="692" height="1" fill="url(#lv)"/>
<polyline points="2.50,454.50 10.50,453.00 14.50,453.50 22.50,457.50 26.50,458.00 30.50,458.00 34.50,454.50 46.50,450.00 54.50,445.50 62.50,442.50 70.50,433.50 76.50,427.50 80.50,427.00 92.50,427.00 100.50,429.50 110.50,430.50 120.50,431.50 130.50,431.50 140.50,429.50 150.50,428.00 160.50,426.50 170.50,426.50 180.50,426.00 200.50,425.00 220.50,424.50 230.50,423.50 240.50,422.50 250.50,422.00 268.50,423.00 300.50,422.50 306.50,421.50 320.50,423.00 328.50,424.00 344.50,424.50 350.50,426.50 356.50,427.50 366.50,429.50 376.50,433.50 384.50,436.00 392.50,436.00 400.50,436.50 406.50,437.50 414.50,440.50 422.50,443.50 432.50,447.00 438.50,450.00 444.50,454.50 446.50,455.50 454.50,459.50 462.50,463.00 470.50,464.50 478.50,466.00 486.50,467.00 494.50,466.50 502.50,463.50 508.50,460.50 514.50,458.50 522.50,458.50 532.50,459.50 534.50,460.50 540.50,461.00 546.50,463.50 552.50,466.50 558.50,469.50 564.50,472.00 570.50,473.00 576.50,473.00 582.50,472.00 588.50,473.50 594.50,474.50 600.50,475.00 610.50,475.00" fill="none" stroke="#20a8a0" stroke-width="1"/>
<polyline points="2.50,454.50 10.50,454.00 18.50,454.50 26.50,456.50 34.50,457.50 42.50,454.50 46.50,453.50 54.50,449.50 62.50,445.50 70.50,440.50 78.50,433.50 86.50,429.50 92.50,427.50 100.50,429.50 110.50,430.50 120.50,431.50 130.50,432.00 140.50,431.00 150.50,429.50 160.50,427.50 170.50,427.00 180.50,426.50 200.50,426.00 220.50,425.50 230.50,424.50 240.50,423.50 250.50,422.50 268.50,423.00 300.50,423.00 320.50,423.00 330.50,424.00 345.50,424.50 352.50,424.50 364.50,427.00 372.50,429.50 380.50,432.50 386.50,435.00 396.50,436.00 406.50,436.00 414.50,438.50 422.50,441.50 430.50,444.50 438.50,447.00 444.50,449.50 448.50,451.50 456.50,456.50 464.50,461.50 472.50,464.00 480.50,465.50 488.50,466.50 496.50,467.00 504.50,465.50 512.50,462.50 520.50,460.00 526.50,458.50 532.50,458.50 536.50,459.50 544.50,461.00 550.50,462.50 556.50,464.50 562.50,467.50 568.50,470.00 574.50,471.00 580.50,472.00 586.50,473.00 592.50,473.00 598.50,473.50 604.50,475.00 610.50,475.00" fill="none" stroke="#ff0000" stroke-width="1" stroke-dasharray="3 3"/>
<polyline points="2.50,438.20 6.50,441.50 10.50,431.50 14.50,477.50 18.50,476.00 22.50,474.00 26.50,469.10 30.50,450.50 34.50,427.00 38.50,434.50 42.50,429.00 46.50,441.50 50.50,432.50 54.50,425.50 58.50,424.50 62.50,424.00 66.50,423.50 70.50,423.50 74.50,423.50 78.50,424.50 82.50,436.50 86.50,435.50 90.50,452.50 94.50,469.50 98.50,470.50 102.50,463.50 106.50,431.50 110.50,431.50 114.50,437.50 118.50,439.10 122.50,437.50 126.50,436.00 130.50,437.50 134.50,422.50 138.50,423.50 142.50,427.00 146.50,423.50 150.50,422.50 154.50,419.00 158.50,423.50 162.50,426.00 166.50,428.50 170.50,435.50 174.50,436.00 178.50,447.50 182.50,429.10 186.50,435.50 190.50,441.50 194.50,432.50 198.50,426.00 202.50,419.10 206.50,424.00 210.50,424.50 214.50,424.00 218.50,422.90 222.50,425.50 226.50,434.50 230.50,427.00 234.50,427.00 238.50,427.00 242.50,423.50 246.50,424.50 250.50,433.50 254.50,437.00 258.50,427.00 262.50,430.50 266.50,419.80 270.50,424.10 274.50,432.90 278.50,423.75 282.50,429.75 286.50,431.00 290.50,428.75 294.50,427.50 298.50,420.50 302.50,422.90 306.50,426.00 310.50,434.10 314.50,430.50 318.50,437.90 322.50,433.75 326.50,442.90 330.50,447.90 334.50,456.00 338.50,439.75 342.50,458.50 346.50,464.10 350.50,457.90 354.50,456.50 358.50,452.90 362.50,470.50 366.50,464.10 370.50,474.50 374.50,469.50 378.50,454.00 382.50,448.00 386.50,427.50 390.50,419.10 394.50,424.10 398.50,444.75 402.50,445.50 406.50,454.50 410.50,461.00 414.50,469.00 418.50,471.50 422.50,468.50 426.50,461.50 430.50,462.90 434.50,461.50 438.50,456.00 442.50,451.00 446.50,463.50 450.50,480.50 454.50,467.90 458.50,474.10 462.50,466.00 466.50,473.50 470.50,473.50 474.50,471.00 478.50,463.50 482.50,459.10 486.50,457.25 490.50,437.00 494.50,439.50 498.50,430.50 502.50,421.50 506.50,419.50 510.50,440.50 514.50,451.00 518.50,469.10 522.50,473.50 526.50,479.75 530.50,476.50 534.50,467.90 538.50,465.75 542.50,473.50 546.50,476.00 550.50,476.50 554.50,468.50 558.50,466.50 562.50,470.50 566.50,454.75 570.50,469.10 574.50,469.75 578.50,469.75 582.50,465.75 586.50,476.00 590.50,477.25 594.50,480.00 598.50,470.50 602.50,464.75 606.50,459.75 610.50,457.50" fill="none" stroke="#0000ff" stroke-width="1"/>
<polygon points="551,2 559,2 555,7" fill="#dadada"/>
<polygon points="2,480 2,485 6,485" fill="#d4d4d4"/>
<rect x="1.5" y="1.5" width="694" height="336" fill="none" stroke="#000" stroke-width="1"/>
<rect x="1.5" y="339.5" width="694" height="74" fill="none" stroke="#000" stroke-width="1"/>
<rect x="1.5" y="415.5" width="694" height="70" fill="none" stroke="#000" stroke-width="1"/>
<rect x="20" y="22" width="180" height="35" fill="#ffffff"/>
<g style="shape-rendering:auto">
<text x="24.3" y="49" font-size="29.5" font-weight="bold" fill="#161616" stroke="#161616" stroke-width="0.9" textLength="91" lengthAdjust="spacingAndGlyphs"><tspan>F</tspan><tspan font-size="32">orex</tspan></text>
<polygon points="127,26.5 131.8,26.5 123.5,39.4 131.8,39.4 131.8,54.5 126.3,54.5 126.3,43.8 115.6,43.8 115.6,40" fill="#5aa02e"/>
<text x="133" y="49" font-size="32" font-weight="bold" fill="#5aa02e" stroke="#5aa02e" stroke-width="0.9" textLength="61.5" lengthAdjust="spacingAndGlyphs">you</text>
</g>
<rect x="696" y="4" width="2" height="1" fill="#000"/>
<text x="701.5" y="7" font-size="9.7" fill="#000" stroke="#000" stroke-width="0.12" textLength="32" lengthAdjust="spacingAndGlyphs" style="shape-rendering:auto">1.64500</text>
<rect x="696" y="37" width="2" height="1" fill="#000"/>
<text x="701.5" y="40" font-size="9.7" fill="#000" stroke="#000" stroke-width="0.12" textLength="32" lengthAdjust="spacingAndGlyphs" style="shape-rendering:auto">1.63680</text>
<rect x="696" y="70" width="2" height="1" fill="#000"/>
<text x="701.5" y="73" font-size="9.7" fill="#000" stroke="#000" stroke-width="0.12" textLength="32" lengthAdjust="spacingAndGlyphs" style="shape-rendering:auto">1.62860</text>
<rect x="696" y="103" width="2" height="1" fill="#000"/>
<text x="701.5" y="106" font-size="9.7" fill="#000" stroke="#000" stroke-width="0.12" textLength="32" lengthAdjust="spacingAndGlyphs" style="shape-rendering:auto">1.62080</text>
<rect x="696" y="136" width="2" height="1" fill="#000"/>
<text x="701.5" y="139" font-size="9.7" fill="#000" stroke="#000" stroke-width="0.12" textLength="32" lengthAdjust="spacingAndGlyphs" style="shape-rendering:auto">1.61270</text>
<rect x="696" y="169" width="2" height="1" fill="#000"/>
<text x="701.5" y="172" font-size="9.7" fill="#000" stroke="#000" stroke-width="0.12" textLength="32" lengthAdjust="spacingAndGlyphs" style="shape-rendering:auto">1.60460</text>
<rect x="696" y="202" width="2" height="1" fill="#000"/>
<text x="701.5" y="205" font-size="9.7" fill="#000" stroke="#000" stroke-width="0.12" textLength="32" lengthAdjust="spacingAndGlyphs" style="shape-rendering:auto">1.59650</text>
<rect x="696" y="235" width="2" height="1" fill="#000"/>
<text x="701.5" y="238" font-size="9.7" fill="#000" stroke="#000" stroke-width="0.12" textLength="32" lengthAdjust="spacingAndGlyphs" style="shape-rendering:auto">1.58860</text>
<rect x="696" y="268" width="2" height="1" fill="#000"/>
<text x="701.5" y="271" font-size="9.7" fill="#000" stroke="#000" stroke-width="0.12" textLength="32" lengthAdjust="spacingAndGlyphs" style="shape-rendering:auto">1.58040</text>
<rect x="696" y="301" width="2" height="1" fill="#000"/>
<text x="701.5" y="304" font-size="9.7" fill="#000" stroke="#000" stroke-width="0.12" textLength="32" lengthAdjust="spacingAndGlyphs" style="shape-rendering:auto">1.57240</text>
<rect x="696" y="334" width="2" height="1" fill="#000"/>
<text x="701.5" y="337" font-size="9.7" fill="#000" stroke="#000" stroke-width="0.12" textLength="32" lengthAdjust="spacingAndGlyphs" style="shape-rendering:auto">1.56440</text>
<text x="699.5" y="349.5" font-size="9.7" fill="#000" stroke="#000" stroke-width="0.12" textLength="38" lengthAdjust="spacingAndGlyphs" style="shape-rendering:auto">0.013094</text>
<rect x="696" y="389" width="2" height="1" fill="#000"/>
<text x="699.5" y="391.6" font-size="9.7" fill="#000" stroke="#000" stroke-width="0.12" textLength="17.5" lengthAdjust="spacingAndGlyphs" style="shape-rendering:auto">0.00</text>
<text x="699.5" y="409.3" font-size="9.7" fill="#000" stroke="#000" stroke-width="0.12" textLength="38" lengthAdjust="spacingAndGlyphs" style="shape-rendering:auto">-0.00639</text>
<rect x="696" y="340" width="1" height="1" fill="#000"/>
<rect x="696" y="412" width="1" height="1" fill="#000"/>
<rect x="696" y="417" width="1" height="1" fill="#000"/>
<rect x="696" y="484" width="1" height="1" fill="#000"/>
<text x="699.5" y="425" font-size="9.7" fill="#000" stroke="#000" stroke-width="0.12" textLength="5" lengthAdjust="spacingAndGlyphs" style="shape-rendering:auto">0</text>
<text x="699.5" y="432.5" font-size="9.7" fill="#000" stroke="#000" stroke-width="0.12" textLength="10.5" lengthAdjust="spacingAndGlyphs" style="shape-rendering:auto">80</text>
<text x="699.5" y="432.5" font-size="9.7" fill="#000" stroke="#000" stroke-width="0.12" textLength="12.5" lengthAdjust="spacingAndGlyphs" style="shape-rendering:auto">-20</text>
<text x="699.5" y="473.2" font-size="9.7" fill="#000" stroke="#000" stroke-width="0.12" textLength="10.5" lengthAdjust="spacingAndGlyphs" style="shape-rendering:auto">20</text>
<text x="699.5" y="473.2" font-size="9.7" fill="#000" stroke="#000" stroke-width="0.12" textLength="12.5" lengthAdjust="spacingAndGlyphs" style="shape-rendering:auto">-80</text>
<text x="699.5" y="481.4" font-size="9.7" fill="#000" stroke="#000" stroke-width="0.12" textLength="18" lengthAdjust="spacingAndGlyphs" style="shape-rendering:auto">-100</text>
<rect x="697" y="135" width="38" height="11" fill="#000000"/>
<text x="701.5" y="144" font-size="9.7" fill="#fff" stroke="#fff" stroke-width="0.3" textLength="32" lengthAdjust="spacingAndGlyphs" style="shape-rendering:auto">1.61148</text>
<rect x="697" y="6" width="38" height="11" fill="#0000ff"/>
<text x="701.5" y="15" font-size="9.7" fill="#fff" stroke="#fff" stroke-width="0.3" textLength="32" lengthAdjust="spacingAndGlyphs" style="shape-rendering:auto">1.64308</text>
<rect x="697" y="73" width="38" height="11" fill="#0000ff"/>
<text x="701.5" y="82" font-size="9.7" fill="#fff" stroke="#fff" stroke-width="0.3" textLength="32" lengthAdjust="spacingAndGlyphs" style="shape-rendering:auto">1.62657</text>
<rect x="697" y="109" width="38" height="11" fill="#0000ff"/>
<text x="701.5" y="118" font-size="9.7" fill="#fff" stroke="#fff" stroke-width="0.3" textLength="32" lengthAdjust="spacingAndGlyphs" style="shape-rendering:auto">1.61786</text>
<rect x="697" y="132" width="38" height="11" fill="#0000ff"/>
<text x="701.5" y="141" font-size="9.7" fill="#fff" stroke="#fff" stroke-width="0.3" textLength="32" lengthAdjust="spacingAndGlyphs" style="shape-rendering:auto">1.61212</text>
<rect x="697" y="152" width="38" height="11" fill="#0000ff"/>
<text x="701.5" y="161" font-size="9.7" fill="#fff" stroke="#fff" stroke-width="0.3" textLength="32" lengthAdjust="spacingAndGlyphs" style="shape-rendering:auto">1.60733</text>
<rect x="697" y="197" width="38" height="11" fill="#0000ff"/>
<text x="701.5" y="206" font-size="9.7" fill="#fff" stroke="#fff" stroke-width="0.3" textLength="32" lengthAdjust="spacingAndGlyphs" style="shape-rendering:auto">1.59635</text>
<rect x="697" y="223" width="38" height="11" fill="#0000ff"/>
<text x="701.5" y="232" font-size="9.7" fill="#fff" stroke="#fff" stroke-width="0.3" textLength="32" lengthAdjust="spacingAndGlyphs" style="shape-rendering:auto">1.59003</text>
<rect x="697" y="285" width="38" height="11" fill="#0000ff"/>
<text x="701.5" y="294" font-size="9.7" fill="#fff" stroke="#fff" stroke-width="0.3" textLength="32" lengthAdjust="spacingAndGlyphs" style="shape-rendering:auto">1.57497</text>
<rect x="697" y="59" width="38" height="11" fill="#ff0000"/>
<text x="701.5" y="68" font-size="9.7" fill="#fff" stroke="#fff" stroke-width="0.3" textLength="32" lengthAdjust="spacingAndGlyphs" style="shape-rendering:auto">1.63012</text>
<rect x="2" y="486" width="1" height="3" fill="#000"/>
<text x="1.5" y="497.4" font-size="9.7" fill="#000" stroke="#000" stroke-width="0.12" textLength="52" lengthAdjust="spacingAndGlyphs" style="shape-rendering:auto">30 Aug 2012</text>
<rect x="66" y="486" width="1" height="3" fill="#000"/>
<text x="65.5" y="497.4" font-size="9.7" fill="#000" stroke="#000" stroke-width="0.12" textLength="48.5" lengthAdjust="spacingAndGlyphs" style="shape-rendering:auto">3 Sep 20:00</text>
<rect x="130" y="486" width="1" height="3" fill="#000"/>
<text x="129.5" y="497.4" font-size="9.7" fill="#000" stroke="#000" stroke-width="0.12" textLength="48.5" lengthAdjust="spacingAndGlyphs" style="shape-rendering:auto">6 Sep 12:00</text>
<rect x="194" y="486" width="1" height="3" fill="#000"/>
<text x="193.5" y="497.4" font-size="9.7" fill="#000" stroke="#000" stroke-width="0.12" textLength="54" lengthAdjust="spacingAndGlyphs" style="shape-rendering:auto">11 Sep 04:00</text>
<rect x="258" y="486" width="1" height="3" fill="#000"/>
<text x="257.5" y="497.4" font-size="9.7" fill="#000" stroke="#000" stroke-width="0.12" textLength="54" lengthAdjust="spacingAndGlyphs" style="shape-rendering:auto">13 Sep 20:00</text>
<rect x="322" y="486" width="1" height="3" fill="#000"/>
<text x="321.5" y="497.4" font-size="9.7" fill="#000" stroke="#000" stroke-width="0.12" textLength="54" lengthAdjust="spacingAndGlyphs" style="shape-rendering:auto">18 Sep 12:00</text>
<rect x="386" y="486" width="1" height="3" fill="#000"/>
<text x="385.5" y="497.4" font-size="9.7" fill="#000" stroke="#000" stroke-width="0.12" textLength="54" lengthAdjust="spacingAndGlyphs" style="shape-rendering:auto">21 Sep 04:00</text>
<rect x="450" y="486" width="1" height="3" fill="#000"/>
<text x="449.5" y="497.4" font-size="9.7" fill="#000" stroke="#000" stroke-width="0.12" textLength="54" lengthAdjust="spacingAndGlyphs" style="shape-rendering:auto">25 Sep 20:00</text>
<rect x="514" y="486" width="1" height="3" fill="#000"/>
<text x="513.5" y="497.4" font-size="9.7" fill="#000" stroke="#000" stroke-width="0.12" textLength="54" lengthAdjust="spacingAndGlyphs" style="shape-rendering:auto">28 Sep 12:00</text>
<rect x="578" y="486" width="1" height="3" fill="#000"/>
<text x="577.5" y="497.4" font-size="9.7" fill="#000" stroke="#000" stroke-width="0.12" textLength="48.5" lengthAdjust="spacingAndGlyphs" style="shape-rendering:auto">3 Oct 04:00</text>
</svg></body></html>
